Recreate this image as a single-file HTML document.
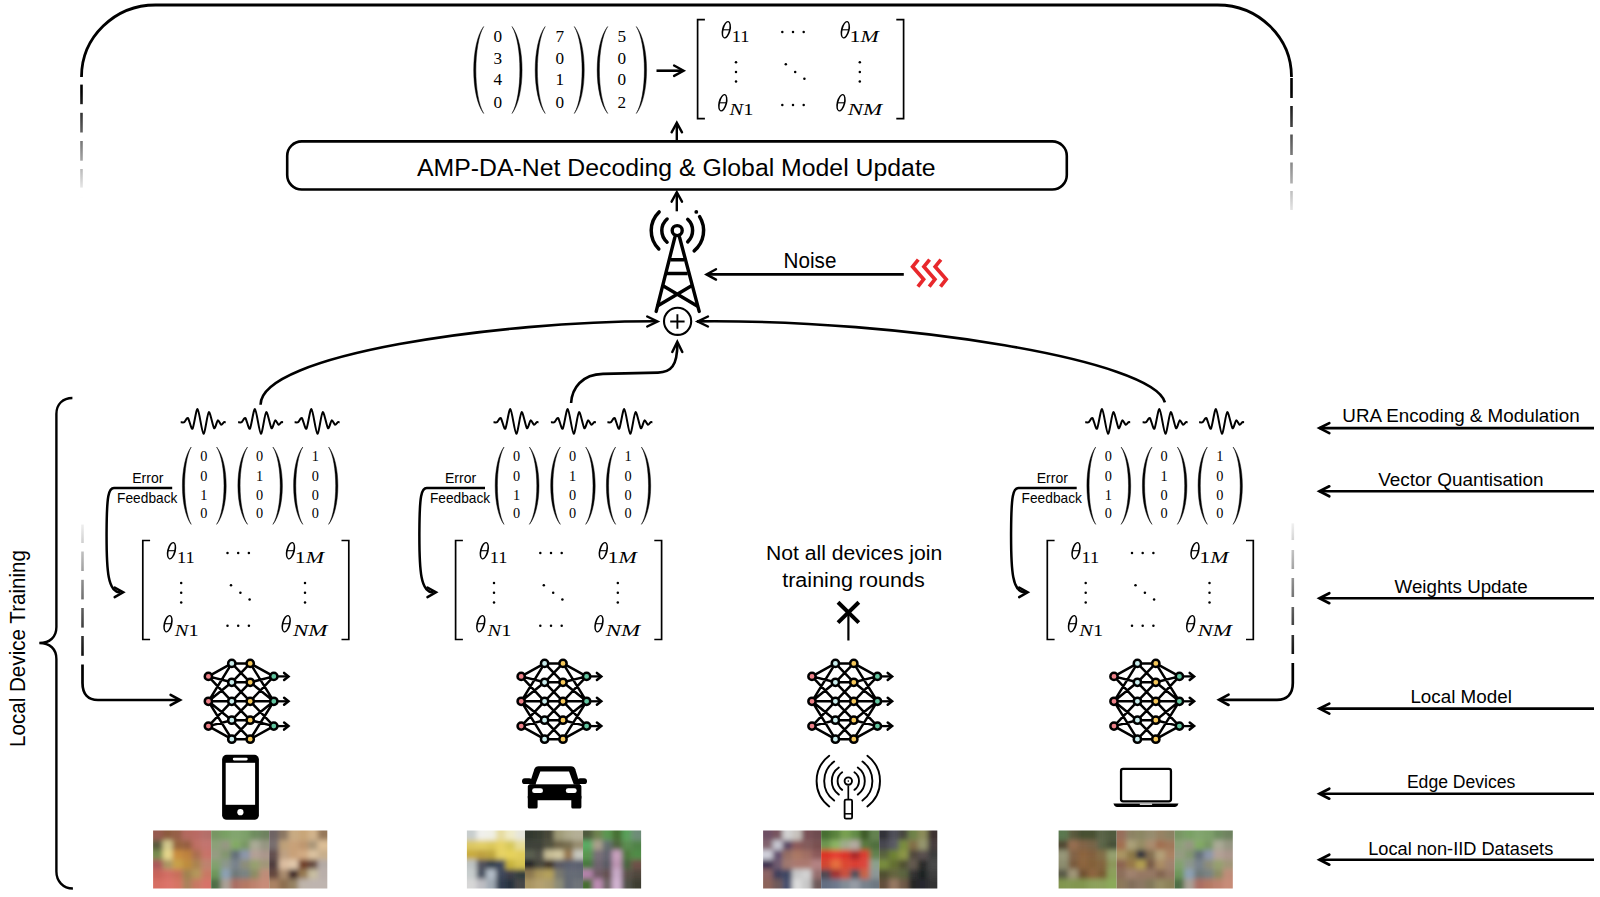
<!DOCTYPE html>
<html><head><meta charset="utf-8"><style>
html,body{margin:0;padding:0;background:#fff;}
body{width:1600px;height:897px;overflow:hidden;position:relative;font-family:"Liberation Sans",sans-serif;}
svg{position:absolute;left:0;top:0;}
</style></head><body>
<svg width="1600" height="897" viewBox="0 0 1600 897">
<defs><linearGradient id="fadeL" gradientUnits="userSpaceOnUse" x1="0" y1="92" x2="0" y2="198"><stop offset="0" stop-color="#000"/><stop offset="1" stop-color="#fff"/></linearGradient><linearGradient id="fadeB" gradientUnits="userSpaceOnUse" x1="0" y1="515" x2="0" y2="664"><stop offset="0" stop-color="#fff"/><stop offset="1" stop-color="#000"/></linearGradient><linearGradient id="fadeR" gradientUnits="userSpaceOnUse" x1="0" y1="92" x2="0" y2="224"><stop offset="0" stop-color="#000"/><stop offset="1" stop-color="#fff"/></linearGradient></defs>
<path d="M81.5,77 A74,72 0 0 1 155.5,5 L1217.5,5 A74,72 0 0 1 1291.5,77" fill="none" stroke="#000" stroke-width="2.8" />
<line x1="81.5" y1="84.6" x2="81.5" y2="104.2" stroke="url(#fadeL)" stroke-width="2.6"/>
<line x1="81.5" y1="112.8" x2="81.5" y2="132.5" stroke="url(#fadeL)" stroke-width="2.6"/>
<line x1="81.5" y1="141" x2="81.5" y2="160.7" stroke="url(#fadeL)" stroke-width="2.6"/>
<line x1="81.5" y1="169" x2="81.5" y2="187.6" stroke="url(#fadeL)" stroke-width="2.6"/>
<line x1="81.5" y1="197" x2="81.5" y2="215" stroke="url(#fadeL)" stroke-width="2.6"/>
<line x1="1291.5" y1="78" x2="1291.5" y2="98" stroke="url(#fadeR)" stroke-width="2.6"/>
<line x1="1291.5" y1="106" x2="1291.5" y2="127" stroke="url(#fadeR)" stroke-width="2.6"/>
<line x1="1291.5" y1="134.5" x2="1291.5" y2="155" stroke="url(#fadeR)" stroke-width="2.6"/>
<line x1="1291.5" y1="162.5" x2="1291.5" y2="183.5" stroke="url(#fadeR)" stroke-width="2.6"/>
<line x1="1291.5" y1="191" x2="1291.5" y2="210" stroke="url(#fadeR)" stroke-width="2.6"/>
<rect x="287.2" y="141.4" width="779.6" height="48.1" rx="14.5" ry="14.5" fill="none" stroke="#000" stroke-width="2.6"/>
<text x="417" y="175.6" font-family='"Liberation Sans", sans-serif' font-size="23.5" text-anchor="start" textLength="518.6" lengthAdjust="spacingAndGlyphs"  style="">AMP-DA-Net Decoding &amp; Global Model Update</text>
<line x1="676.8" y1="141.4" x2="676.8" y2="123" stroke="#000" stroke-width="2.4"/>
<path d="M682.00,132.30 L676.80,122.80 L671.60,132.30" fill="none" stroke="#000" stroke-width="2.4" stroke-linecap="round" stroke-linejoin="miter"/>
<line x1="676.8" y1="211.3" x2="676.8" y2="192.5" stroke="#000" stroke-width="2.4"/>
<path d="M682.00,201.70 L676.80,192.20 L671.60,201.70" fill="none" stroke="#000" stroke-width="2.4" stroke-linecap="round" stroke-linejoin="miter"/>
<text x="783.6" y="268" font-family='"Liberation Sans", sans-serif' font-size="21.4" text-anchor="start" textLength="52.8" lengthAdjust="spacingAndGlyphs"  style="">Noise</text>
<line x1="707" y1="274.4" x2="903.8" y2="274.4" stroke="#000" stroke-width="2.7"/>
<path d="M716.00,269.20 L706.50,274.40 L716.00,279.60" fill="none" stroke="#000" stroke-width="2.4" stroke-linecap="round" stroke-linejoin="miter"/>
<path d="M918.30,259.6 L912.60,266.6 L923.60,279.3 L917.90,286.6" fill="none" stroke="#e8282c" stroke-width="3.7" stroke-linejoin="miter"/>
<path d="M929.60,259.6 L923.90,266.6 L934.90,279.3 L929.20,286.6" fill="none" stroke="#e8282c" stroke-width="3.7" stroke-linejoin="miter"/>
<path d="M940.90,259.6 L935.20,266.6 L946.20,279.3 L940.50,286.6" fill="none" stroke="#e8282c" stroke-width="3.7" stroke-linejoin="miter"/>
<path d="M483.70,26.50 C470.37,43.90 470.37,96.10 483.70,113.50 C473.30,96.10 473.30,43.90 483.70,26.50 Z" fill="#000" stroke="#000" stroke-width="0.45"/>
<path d="M512.00,26.50 C525.47,43.90 525.47,96.10 512.00,113.50 C522.53,96.10 522.53,43.90 512.00,26.50 Z" fill="#000" stroke="#000" stroke-width="0.45"/>
<text x="497.8" y="42.0" font-family='"Liberation Serif", serif' font-size="17.2" text-anchor="middle"  style="">0</text>
<text x="497.8" y="63.7" font-family='"Liberation Serif", serif' font-size="17.2" text-anchor="middle"  style="">3</text>
<text x="497.8" y="85.1" font-family='"Liberation Serif", serif' font-size="17.2" text-anchor="middle"  style="">4</text>
<text x="497.8" y="107.8" font-family='"Liberation Serif", serif' font-size="17.2" text-anchor="middle"  style="">0</text>
<path d="M545.20,26.50 C531.87,43.90 531.87,96.10 545.20,113.50 C534.80,96.10 534.80,43.90 545.20,26.50 Z" fill="#000" stroke="#000" stroke-width="0.45"/>
<path d="M574.30,26.50 C587.63,43.90 587.63,96.10 574.30,113.50 C584.70,96.10 584.70,43.90 574.30,26.50 Z" fill="#000" stroke="#000" stroke-width="0.45"/>
<text x="559.7" y="42.0" font-family='"Liberation Serif", serif' font-size="17.2" text-anchor="middle"  style="">7</text>
<text x="559.7" y="63.7" font-family='"Liberation Serif", serif' font-size="17.2" text-anchor="middle"  style="">0</text>
<text x="559.7" y="85.1" font-family='"Liberation Serif", serif' font-size="17.2" text-anchor="middle"  style="">1</text>
<text x="559.7" y="107.8" font-family='"Liberation Serif", serif' font-size="17.2" text-anchor="middle"  style="">0</text>
<path d="M607.70,26.50 C593.70,43.90 593.70,96.10 607.70,113.50 C596.63,96.10 596.63,43.90 607.70,26.50 Z" fill="#000" stroke="#000" stroke-width="0.45"/>
<path d="M636.30,26.50 C650.03,43.90 650.03,96.10 636.30,113.50 C647.10,96.10 647.10,43.90 636.30,26.50 Z" fill="#000" stroke="#000" stroke-width="0.45"/>
<text x="621.7" y="42.0" font-family='"Liberation Serif", serif' font-size="17.2" text-anchor="middle"  style="">5</text>
<text x="621.7" y="63.7" font-family='"Liberation Serif", serif' font-size="17.2" text-anchor="middle"  style="">0</text>
<text x="621.7" y="85.1" font-family='"Liberation Serif", serif' font-size="17.2" text-anchor="middle"  style="">0</text>
<text x="621.7" y="107.8" font-family='"Liberation Serif", serif' font-size="17.2" text-anchor="middle"  style="">2</text>
<line x1="656.5" y1="70.7" x2="683" y2="70.7" stroke="#000" stroke-width="2.6"/>
<path d="M674.10,75.90 L683.60,70.70 L674.10,65.50" fill="none" stroke="#000" stroke-width="2.4" stroke-linecap="round" stroke-linejoin="miter"/>
<path d="M704.9,19.6 L697.6,19.6 L697.6,118.6 L704.9,118.6" fill="none" stroke="#000" stroke-width="1.7"/>
<path d="M896.3000000000001,19.6 L903.6,19.6 L903.6,118.6 L896.3000000000001,118.6" fill="none" stroke="#000" stroke-width="1.7"/>
<path d="M721.95,29.80 a4.35,8.95 0 1 0 8.70,0 a4.35,8.95 0 1 0 -8.70,0 Z M723.65,29.80 a2.65,7.75 0 1 0 5.30,0 a2.65,7.75 0 1 0 -5.30,0 Z" fill-rule="evenodd" fill="#000" transform="rotate(14 726.30 29.80)"/>
<line x1="722.40" y1="29.80" x2="730.00" y2="29.80" stroke="#000" stroke-width="1.1"/>
<text x="731.80" y="41.80" font-family="'Liberation Serif', serif" font-size="17" textLength="17.70" lengthAdjust="spacingAndGlyphs"><tspan>1</tspan><tspan>1</tspan></text>
<path d="M840.95,29.80 a4.35,8.95 0 1 0 8.70,0 a4.35,8.95 0 1 0 -8.70,0 Z M842.65,29.80 a2.65,7.75 0 1 0 5.30,0 a2.65,7.75 0 1 0 -5.30,0 Z" fill-rule="evenodd" fill="#000" transform="rotate(14 845.30 29.80)"/>
<line x1="841.40" y1="29.80" x2="849.00" y2="29.80" stroke="#000" stroke-width="1.1"/>
<text x="849.60" y="41.80" font-family="'Liberation Serif', serif" font-size="17" textLength="29.20" lengthAdjust="spacingAndGlyphs"><tspan>1</tspan><tspan font-style="italic">M</tspan></text>
<path d="M718.45,102.80 a4.35,8.95 0 1 0 8.70,0 a4.35,8.95 0 1 0 -8.70,0 Z M720.15,102.80 a2.65,7.75 0 1 0 5.30,0 a2.65,7.75 0 1 0 -5.30,0 Z" fill-rule="evenodd" fill="#000" transform="rotate(14 722.80 102.80)"/>
<line x1="718.90" y1="102.80" x2="726.50" y2="102.80" stroke="#000" stroke-width="1.1"/>
<text x="729.60" y="114.80" font-family="'Liberation Serif', serif" font-size="17" textLength="23.80" lengthAdjust="spacingAndGlyphs"><tspan font-style="italic">N</tspan><tspan>1</tspan></text>
<path d="M836.65,102.80 a4.35,8.95 0 1 0 8.70,0 a4.35,8.95 0 1 0 -8.70,0 Z M838.35,102.80 a2.65,7.75 0 1 0 5.30,0 a2.65,7.75 0 1 0 -5.30,0 Z" fill-rule="evenodd" fill="#000" transform="rotate(14 841.00 102.80)"/>
<line x1="837.10" y1="102.80" x2="844.70" y2="102.80" stroke="#000" stroke-width="1.1"/>
<text x="847.80" y="114.80" font-family="'Liberation Serif', serif" font-size="17" textLength="34.40" lengthAdjust="spacingAndGlyphs"><tspan font-style="italic">N</tspan><tspan font-style="italic">M</tspan></text>
<circle cx="782.30" cy="32.00" r="1.25" fill="#000"/>
<circle cx="782.30" cy="104.90" r="1.25" fill="#000"/>
<circle cx="793.00" cy="32.00" r="1.25" fill="#000"/>
<circle cx="793.00" cy="104.90" r="1.25" fill="#000"/>
<circle cx="803.70" cy="32.00" r="1.25" fill="#000"/>
<circle cx="803.70" cy="104.90" r="1.25" fill="#000"/>
<circle cx="736.00" cy="62.20" r="1.25" fill="#000"/>
<circle cx="736.00" cy="71.90" r="1.25" fill="#000"/>
<circle cx="736.00" cy="81.50" r="1.25" fill="#000"/>
<circle cx="859.80" cy="62.20" r="1.25" fill="#000"/>
<circle cx="859.80" cy="71.90" r="1.25" fill="#000"/>
<circle cx="859.80" cy="81.50" r="1.25" fill="#000"/>
<circle cx="785.80" cy="64.30" r="1.25" fill="#000"/>
<circle cx="795.20" cy="71.90" r="1.25" fill="#000"/>
<circle cx="804.40" cy="78.70" r="1.25" fill="#000"/>
<circle cx="677.2" cy="230.6" r="5.0" fill="none" stroke="#000" stroke-width="3.4"/>
<path d="M667.10,242.22 A15.4,15.4 0 0 1 667.10,218.98" fill="none" stroke="#000" stroke-width="3.5" stroke-linecap="round"/>
<path d="M687.70,219.34 A15.4,15.4 0 0 1 687.70,241.86" fill="none" stroke="#000" stroke-width="3.5" stroke-linecap="round"/>
<path d="M658.82,248.98 A26.0,26.0 0 0 1 659.14,211.90" fill="none" stroke="#000" stroke-width="3.5" stroke-linecap="round"/>
<path d="M699.59,216.61 A26.4,26.4 0 0 1 694.17,250.82" fill="none" stroke="#000" stroke-width="3.5" stroke-linecap="round"/>
<circle cx="696.30" cy="211.90" r="1.9" fill="#000"/>
<path d="M674.8,237.5 L656.2,311.4 M679.6,237.5 L699.2,311.4" fill="none" stroke="#000" stroke-width="3.4" stroke-linecap="round"/>
<path d="M670.4,259.8 L684.0,259.8 M666.7,273.5 L687.7,273.5" fill="none" stroke="#000" stroke-width="3.4" />
<path d="M662.6,285.5 L697.6,306.3 M692.0,285.5 L657.0,306.3" fill="none" stroke="#000" stroke-width="3.4" />
<circle cx="677.6" cy="321.3" r="13.6" fill="none" stroke="#000" stroke-width="2.1"/>
<path d="M670.2,321.5 L684.6,321.5 M677.4,314.2 L677.4,328.8" fill="none" stroke="#000" stroke-width="1.9" />
<path d="M647.26,326.50 L657.46,321.50 L647.26,316.50" fill="none" stroke="#000" stroke-width="2.5" stroke-linecap="round" stroke-linejoin="miter"/>
<path d="M707.94,316.50 L697.74,321.50 L707.94,326.50" fill="none" stroke="#000" stroke-width="2.5" stroke-linecap="round" stroke-linejoin="miter"/>
<path d="M682.30,351.94 L677.30,341.74 L672.30,351.94" fill="none" stroke="#000" stroke-width="2.5" stroke-linecap="round" stroke-linejoin="miter"/>
<path d="M260.6,404.8 C259.9,354.5 499.1,321 657,321.3" fill="none" stroke="#000" stroke-width="2.6" />
<path d="M1164.9,402.4 C1154.6,360.3 903.5,319.1 697,321.4" fill="none" stroke="#000" stroke-width="2.6" />
<path d="M571.1,403 C572,388 582,374.4 603,373.9 L658,372.6 C671,372.3 677.4,366 677.4,343" fill="none" stroke="#000" stroke-width="2.6" />
<path d="M72.4,398 C63,398 56.4,404 56.4,414 L56.4,627 C56.4,637 50,643 39.3,643 C50,643 56.4,649 56.4,659 L56.4,871.5 C56.4,881 63,888.5 72.9,888.5" fill="none" stroke="#000" stroke-width="2.4" />
<text transform="translate(24.6,747) rotate(-90)" font-family="'Liberation Sans', sans-serif" font-size="21.8" textLength="197" lengthAdjust="spacingAndGlyphs">Local Device Training</text>
<line x1="82.5" y1="524.5" x2="82.5" y2="543" stroke="url(#fadeB)" stroke-width="2.6"/>
<line x1="82.5" y1="551.5" x2="82.5" y2="571" stroke="url(#fadeB)" stroke-width="2.6"/>
<line x1="82.5" y1="579.8" x2="82.5" y2="599.4" stroke="url(#fadeB)" stroke-width="2.6"/>
<line x1="82.5" y1="608" x2="82.5" y2="627.6" stroke="url(#fadeB)" stroke-width="2.6"/>
<line x1="82.5" y1="636" x2="82.5" y2="655.8" stroke="url(#fadeB)" stroke-width="2.6"/>
<path d="M82.5,664.4 L82.5,683 C82.5,694 88,700 98,700 L179,700" fill="none" stroke="#000" stroke-width="2.7" />
<path d="M170.62,705.20 L180.12,700.00 L170.62,694.80" fill="none" stroke="#000" stroke-width="2.6" stroke-linecap="round" stroke-linejoin="miter"/>
<line x1="1292.8" y1="523.3" x2="1292.8" y2="540" stroke="url(#fadeB)" stroke-width="2.6"/>
<line x1="1292.8" y1="550" x2="1292.8" y2="569" stroke="url(#fadeB)" stroke-width="2.6"/>
<line x1="1292.8" y1="578" x2="1292.8" y2="597" stroke="url(#fadeB)" stroke-width="2.6"/>
<line x1="1292.8" y1="607" x2="1292.8" y2="625" stroke="url(#fadeB)" stroke-width="2.6"/>
<line x1="1292.8" y1="635" x2="1292.8" y2="654" stroke="url(#fadeB)" stroke-width="2.6"/>
<path d="M1292.8,663 L1292.8,683 C1292.8,694 1287,699.8 1277,699.8 L1221,699.8" fill="none" stroke="#000" stroke-width="2.7" />
<path d="M1228.58,694.60 L1219.08,699.80 L1228.58,705.00" fill="none" stroke="#000" stroke-width="2.6" stroke-linecap="round" stroke-linejoin="miter"/>
<text x="1342.3" y="422.09999999999997" font-family='"Liberation Sans", sans-serif' font-size="18.3" text-anchor="start" textLength="237.3" lengthAdjust="spacingAndGlyphs"  style="">URA Encoding &amp; Modulation</text>
<line x1="1319.5" y1="428.1" x2="1594" y2="428.1" stroke="#000" stroke-width="2.6"/>
<path d="M1329.29,423.10 L1319.49,428.10 L1329.29,433.10" fill="none" stroke="#000" stroke-width="2.7" stroke-linecap="round" stroke-linejoin="miter"/>
<text x="1378.2" y="485.59999999999997" font-family='"Liberation Sans", sans-serif' font-size="18.3" text-anchor="start" textLength="165.4" lengthAdjust="spacingAndGlyphs"  style="">Vector Quantisation</text>
<line x1="1319.5" y1="491.3" x2="1594" y2="491.3" stroke="#000" stroke-width="2.6"/>
<path d="M1329.29,486.30 L1319.49,491.30 L1329.29,496.30" fill="none" stroke="#000" stroke-width="2.7" stroke-linecap="round" stroke-linejoin="miter"/>
<text x="1394.6000000000001" y="592.7" font-family='"Liberation Sans", sans-serif' font-size="18.3" text-anchor="start" textLength="133.0" lengthAdjust="spacingAndGlyphs"  style="">Weights Update</text>
<line x1="1319.5" y1="598.2" x2="1594" y2="598.2" stroke="#000" stroke-width="2.6"/>
<path d="M1329.29,593.20 L1319.49,598.20 L1329.29,603.20" fill="none" stroke="#000" stroke-width="2.7" stroke-linecap="round" stroke-linejoin="miter"/>
<text x="1410.4" y="703.0" font-family='"Liberation Sans", sans-serif' font-size="18.3" text-anchor="start" textLength="101.5" lengthAdjust="spacingAndGlyphs"  style="">Local Model</text>
<line x1="1319.5" y1="708.6" x2="1594" y2="708.6" stroke="#000" stroke-width="2.6"/>
<path d="M1329.29,703.60 L1319.49,708.60 L1329.29,713.60" fill="none" stroke="#000" stroke-width="2.7" stroke-linecap="round" stroke-linejoin="miter"/>
<text x="1406.9" y="788.3000000000001" font-family='"Liberation Sans", sans-serif' font-size="18.3" text-anchor="start" textLength="108.5" lengthAdjust="spacingAndGlyphs"  style="">Edge Devices</text>
<line x1="1319.5" y1="793.7" x2="1594" y2="793.7" stroke="#000" stroke-width="2.6"/>
<path d="M1329.29,788.70 L1319.49,793.70 L1329.29,798.70" fill="none" stroke="#000" stroke-width="2.7" stroke-linecap="round" stroke-linejoin="miter"/>
<text x="1368.2" y="854.5" font-family='"Liberation Sans", sans-serif' font-size="18.3" text-anchor="start" textLength="185.1" lengthAdjust="spacingAndGlyphs"  style="">Local non-IID Datasets</text>
<line x1="1319.5" y1="859.7" x2="1594" y2="859.7" stroke="#000" stroke-width="2.6"/>
<path d="M1329.29,854.70 L1319.49,859.70 L1329.29,864.70" fill="none" stroke="#000" stroke-width="2.7" stroke-linecap="round" stroke-linejoin="miter"/>
<path d="M180.70,422.20 C181.18,422.20 183.33,422.75 184.30,422.20 C185.27,421.65 186.91,417.23 188.00,418.10 C189.09,418.97 191.22,429.90 192.50,428.70 C193.78,427.50 196.13,408.42 197.60,409.10 C199.07,409.78 202.01,433.40 203.50,433.80 C204.99,434.20 207.39,412.85 208.80,412.10 C210.21,411.35 212.90,427.11 214.10,428.20 C215.30,429.29 216.85,420.75 217.80,420.30 C218.75,419.85 220.37,424.55 221.20,424.80 C222.03,425.05 223.40,422.55 224.00,422.20 C224.60,421.85 225.47,422.20 225.70,422.20" fill="none" stroke="#000" stroke-width="2.0" stroke-linejoin="round"/>
<path d="M238.10,422.20 C238.58,422.20 240.73,422.75 241.70,422.20 C242.67,421.65 244.31,417.23 245.40,418.10 C246.49,418.97 248.62,429.90 249.90,428.70 C251.18,427.50 253.53,408.42 255.00,409.10 C256.47,409.78 259.41,433.40 260.90,433.80 C262.39,434.20 264.79,412.85 266.20,412.10 C267.61,411.35 270.30,427.11 271.50,428.20 C272.70,429.29 274.25,420.75 275.20,420.30 C276.15,419.85 277.77,424.55 278.60,424.80 C279.43,425.05 280.80,422.55 281.40,422.20 C282.00,421.85 282.87,422.20 283.10,422.20" fill="none" stroke="#000" stroke-width="2.0" stroke-linejoin="round"/>
<path d="M294.60,422.20 C295.08,422.20 297.23,422.75 298.20,422.20 C299.17,421.65 300.81,417.23 301.90,418.10 C302.99,418.97 305.12,429.90 306.40,428.70 C307.68,427.50 310.03,408.42 311.50,409.10 C312.97,409.78 315.91,433.40 317.40,433.80 C318.89,434.20 321.29,412.85 322.70,412.10 C324.11,411.35 326.80,427.11 328.00,428.20 C329.20,429.29 330.75,420.75 331.70,420.30 C332.65,419.85 334.27,424.55 335.10,424.80 C335.93,425.05 337.30,422.55 337.90,422.20 C338.50,421.85 339.37,422.20 339.60,422.20" fill="none" stroke="#000" stroke-width="2.0" stroke-linejoin="round"/>
<path d="M191.20,447.00 C179.47,462.48 179.47,508.92 191.20,524.40 C182.40,508.92 182.40,462.48 191.20,447.00 Z" fill="#000" stroke="#000" stroke-width="0.45"/>
<path d="M216.60,447.00 C229.40,462.48 229.40,508.92 216.60,524.40 C226.47,508.92 226.47,462.48 216.60,447.00 Z" fill="#000" stroke="#000" stroke-width="0.45"/>
<text x="203.9" y="461.3" font-family='"Liberation Serif", serif' font-size="14.3" text-anchor="middle"  style="">0</text>
<text x="203.9" y="480.6" font-family='"Liberation Serif", serif' font-size="14.3" text-anchor="middle"  style="">0</text>
<text x="203.9" y="499.7" font-family='"Liberation Serif", serif' font-size="14.3" text-anchor="middle"  style="">1</text>
<text x="203.9" y="518.4" font-family='"Liberation Serif", serif' font-size="14.3" text-anchor="middle"  style="">0</text>
<path d="M247.50,447.00 C234.70,462.48 234.70,508.92 247.50,524.40 C237.63,508.92 237.63,462.48 247.50,447.00 Z" fill="#000" stroke="#000" stroke-width="0.45"/>
<path d="M272.90,447.00 C285.57,462.48 285.57,508.92 272.90,524.40 C282.63,508.92 282.63,462.48 272.90,447.00 Z" fill="#000" stroke="#000" stroke-width="0.45"/>
<text x="259.7" y="461.3" font-family='"Liberation Serif", serif' font-size="14.3" text-anchor="middle"  style="">0</text>
<text x="259.7" y="480.6" font-family='"Liberation Serif", serif' font-size="14.3" text-anchor="middle"  style="">1</text>
<text x="259.7" y="499.7" font-family='"Liberation Serif", serif' font-size="14.3" text-anchor="middle"  style="">0</text>
<text x="259.7" y="518.4" font-family='"Liberation Serif", serif' font-size="14.3" text-anchor="middle"  style="">0</text>
<path d="M302.80,447.00 C290.53,462.48 290.53,508.92 302.80,524.40 C293.47,508.92 293.47,462.48 302.80,447.00 Z" fill="#000" stroke="#000" stroke-width="0.45"/>
<path d="M328.60,447.00 C341.00,462.48 341.00,508.92 328.60,524.40 C338.07,508.92 338.07,462.48 328.60,447.00 Z" fill="#000" stroke="#000" stroke-width="0.45"/>
<text x="315.3" y="461.3" font-family='"Liberation Serif", serif' font-size="14.3" text-anchor="middle"  style="">1</text>
<text x="315.3" y="480.6" font-family='"Liberation Serif", serif' font-size="14.3" text-anchor="middle"  style="">0</text>
<text x="315.3" y="499.7" font-family='"Liberation Serif", serif' font-size="14.3" text-anchor="middle"  style="">0</text>
<text x="315.3" y="518.4" font-family='"Liberation Serif", serif' font-size="14.3" text-anchor="middle"  style="">0</text>
<text x="132.2" y="482.5" font-family='"Liberation Sans", sans-serif' font-size="14.6" text-anchor="start" textLength="31.2" lengthAdjust="spacingAndGlyphs"  style="">Error</text>
<text x="117.1" y="502.5" font-family='"Liberation Sans", sans-serif' font-size="14.6" text-anchor="start" textLength="60.3" lengthAdjust="spacingAndGlyphs"  style="">Feedback</text>
<path d="M172.2,488 L114,488 C108.5,488 106.8,496 106.6,530 C106.3,572 108,592.3 120.5,592.3" fill="none" stroke="#000" stroke-width="2.5" />
<path d="M114.68,597.10 L123.18,592.30 L114.68,587.50" fill="none" stroke="#000" stroke-width="2.5" stroke-linecap="round" stroke-linejoin="miter"/>
<path d="M150.10000000000008,540.5 L142.80000000000007,540.5 L142.80000000000007,639.5 L150.10000000000008,639.5" fill="none" stroke="#000" stroke-width="1.7"/>
<path d="M341.50000000000006,540.5 L348.80000000000007,540.5 L348.80000000000007,639.5 L341.50000000000006,639.5" fill="none" stroke="#000" stroke-width="1.7"/>
<path d="M167.15,550.70 a4.35,8.95 0 1 0 8.70,0 a4.35,8.95 0 1 0 -8.70,0 Z M168.85,550.70 a2.65,7.75 0 1 0 5.30,0 a2.65,7.75 0 1 0 -5.30,0 Z" fill-rule="evenodd" fill="#000" transform="rotate(14 171.50 550.70)"/>
<line x1="167.60" y1="550.70" x2="175.20" y2="550.70" stroke="#000" stroke-width="1.1"/>
<text x="177.00" y="562.70" font-family="'Liberation Serif', serif" font-size="17" textLength="17.70" lengthAdjust="spacingAndGlyphs"><tspan>1</tspan><tspan>1</tspan></text>
<path d="M286.15,550.70 a4.35,8.95 0 1 0 8.70,0 a4.35,8.95 0 1 0 -8.70,0 Z M287.85,550.70 a2.65,7.75 0 1 0 5.30,0 a2.65,7.75 0 1 0 -5.30,0 Z" fill-rule="evenodd" fill="#000" transform="rotate(14 290.50 550.70)"/>
<line x1="286.60" y1="550.70" x2="294.20" y2="550.70" stroke="#000" stroke-width="1.1"/>
<text x="294.80" y="562.70" font-family="'Liberation Serif', serif" font-size="17" textLength="29.20" lengthAdjust="spacingAndGlyphs"><tspan>1</tspan><tspan font-style="italic">M</tspan></text>
<path d="M163.65,623.70 a4.35,8.95 0 1 0 8.70,0 a4.35,8.95 0 1 0 -8.70,0 Z M165.35,623.70 a2.65,7.75 0 1 0 5.30,0 a2.65,7.75 0 1 0 -5.30,0 Z" fill-rule="evenodd" fill="#000" transform="rotate(14 168.00 623.70)"/>
<line x1="164.10" y1="623.70" x2="171.70" y2="623.70" stroke="#000" stroke-width="1.1"/>
<text x="174.80" y="635.70" font-family="'Liberation Serif', serif" font-size="17" textLength="23.80" lengthAdjust="spacingAndGlyphs"><tspan font-style="italic">N</tspan><tspan>1</tspan></text>
<path d="M281.85,623.70 a4.35,8.95 0 1 0 8.70,0 a4.35,8.95 0 1 0 -8.70,0 Z M283.55,623.70 a2.65,7.75 0 1 0 5.30,0 a2.65,7.75 0 1 0 -5.30,0 Z" fill-rule="evenodd" fill="#000" transform="rotate(14 286.20 623.70)"/>
<line x1="282.30" y1="623.70" x2="289.90" y2="623.70" stroke="#000" stroke-width="1.1"/>
<text x="293.00" y="635.70" font-family="'Liberation Serif', serif" font-size="17" textLength="34.40" lengthAdjust="spacingAndGlyphs"><tspan font-style="italic">N</tspan><tspan font-style="italic">M</tspan></text>
<circle cx="227.50" cy="552.90" r="1.25" fill="#000"/>
<circle cx="227.50" cy="625.80" r="1.25" fill="#000"/>
<circle cx="238.20" cy="552.90" r="1.25" fill="#000"/>
<circle cx="238.20" cy="625.80" r="1.25" fill="#000"/>
<circle cx="248.90" cy="552.90" r="1.25" fill="#000"/>
<circle cx="248.90" cy="625.80" r="1.25" fill="#000"/>
<circle cx="181.20" cy="583.10" r="1.25" fill="#000"/>
<circle cx="181.20" cy="592.80" r="1.25" fill="#000"/>
<circle cx="181.20" cy="602.40" r="1.25" fill="#000"/>
<circle cx="305.00" cy="583.10" r="1.25" fill="#000"/>
<circle cx="305.00" cy="592.80" r="1.25" fill="#000"/>
<circle cx="305.00" cy="602.40" r="1.25" fill="#000"/>
<circle cx="231.00" cy="585.20" r="1.25" fill="#000"/>
<circle cx="240.40" cy="592.80" r="1.25" fill="#000"/>
<circle cx="249.60" cy="599.60" r="1.25" fill="#000"/>
<path d="M493.50,422.20 C493.98,422.20 496.13,422.75 497.10,422.20 C498.07,421.65 499.71,417.23 500.80,418.10 C501.89,418.97 504.02,429.90 505.30,428.70 C506.58,427.50 508.93,408.42 510.40,409.10 C511.87,409.78 514.81,433.40 516.30,433.80 C517.79,434.20 520.19,412.85 521.60,412.10 C523.01,411.35 525.70,427.11 526.90,428.20 C528.10,429.29 529.65,420.75 530.60,420.30 C531.55,419.85 533.17,424.55 534.00,424.80 C534.83,425.05 536.20,422.55 536.80,422.20 C537.40,421.85 538.27,422.20 538.50,422.20" fill="none" stroke="#000" stroke-width="2.0" stroke-linejoin="round"/>
<path d="M550.90,422.20 C551.38,422.20 553.53,422.75 554.50,422.20 C555.47,421.65 557.11,417.23 558.20,418.10 C559.29,418.97 561.42,429.90 562.70,428.70 C563.98,427.50 566.33,408.42 567.80,409.10 C569.27,409.78 572.21,433.40 573.70,433.80 C575.19,434.20 577.59,412.85 579.00,412.10 C580.41,411.35 583.10,427.11 584.30,428.20 C585.50,429.29 587.05,420.75 588.00,420.30 C588.95,419.85 590.57,424.55 591.40,424.80 C592.23,425.05 593.60,422.55 594.20,422.20 C594.80,421.85 595.67,422.20 595.90,422.20" fill="none" stroke="#000" stroke-width="2.0" stroke-linejoin="round"/>
<path d="M607.40,422.20 C607.88,422.20 610.03,422.75 611.00,422.20 C611.97,421.65 613.61,417.23 614.70,418.10 C615.79,418.97 617.92,429.90 619.20,428.70 C620.48,427.50 622.83,408.42 624.30,409.10 C625.77,409.78 628.71,433.40 630.20,433.80 C631.69,434.20 634.09,412.85 635.50,412.10 C636.91,411.35 639.60,427.11 640.80,428.20 C642.00,429.29 643.55,420.75 644.50,420.30 C645.45,419.85 647.07,424.55 647.90,424.80 C648.73,425.05 650.10,422.55 650.70,422.20 C651.30,421.85 652.17,422.20 652.40,422.20" fill="none" stroke="#000" stroke-width="2.0" stroke-linejoin="round"/>
<path d="M504.00,447.00 C492.27,462.48 492.27,508.92 504.00,524.40 C495.20,508.92 495.20,462.48 504.00,447.00 Z" fill="#000" stroke="#000" stroke-width="0.45"/>
<path d="M529.40,447.00 C542.20,462.48 542.20,508.92 529.40,524.40 C539.27,508.92 539.27,462.48 529.40,447.00 Z" fill="#000" stroke="#000" stroke-width="0.45"/>
<text x="516.7" y="461.3" font-family='"Liberation Serif", serif' font-size="14.3" text-anchor="middle"  style="">0</text>
<text x="516.7" y="480.6" font-family='"Liberation Serif", serif' font-size="14.3" text-anchor="middle"  style="">0</text>
<text x="516.7" y="499.7" font-family='"Liberation Serif", serif' font-size="14.3" text-anchor="middle"  style="">1</text>
<text x="516.7" y="518.4" font-family='"Liberation Serif", serif' font-size="14.3" text-anchor="middle"  style="">0</text>
<path d="M560.30,447.00 C547.50,462.48 547.50,508.92 560.30,524.40 C550.43,508.92 550.43,462.48 560.30,447.00 Z" fill="#000" stroke="#000" stroke-width="0.45"/>
<path d="M585.70,447.00 C598.37,462.48 598.37,508.92 585.70,524.40 C595.43,508.92 595.43,462.48 585.70,447.00 Z" fill="#000" stroke="#000" stroke-width="0.45"/>
<text x="572.5" y="461.3" font-family='"Liberation Serif", serif' font-size="14.3" text-anchor="middle"  style="">0</text>
<text x="572.5" y="480.6" font-family='"Liberation Serif", serif' font-size="14.3" text-anchor="middle"  style="">1</text>
<text x="572.5" y="499.7" font-family='"Liberation Serif", serif' font-size="14.3" text-anchor="middle"  style="">0</text>
<text x="572.5" y="518.4" font-family='"Liberation Serif", serif' font-size="14.3" text-anchor="middle"  style="">0</text>
<path d="M615.60,447.00 C603.33,462.48 603.33,508.92 615.60,524.40 C606.27,508.92 606.27,462.48 615.60,447.00 Z" fill="#000" stroke="#000" stroke-width="0.45"/>
<path d="M641.40,447.00 C653.80,462.48 653.80,508.92 641.40,524.40 C650.87,508.92 650.87,462.48 641.40,447.00 Z" fill="#000" stroke="#000" stroke-width="0.45"/>
<text x="628.1" y="461.3" font-family='"Liberation Serif", serif' font-size="14.3" text-anchor="middle"  style="">1</text>
<text x="628.1" y="480.6" font-family='"Liberation Serif", serif' font-size="14.3" text-anchor="middle"  style="">0</text>
<text x="628.1" y="499.7" font-family='"Liberation Serif", serif' font-size="14.3" text-anchor="middle"  style="">0</text>
<text x="628.1" y="518.4" font-family='"Liberation Serif", serif' font-size="14.3" text-anchor="middle"  style="">0</text>
<text x="445.0" y="482.5" font-family='"Liberation Sans", sans-serif' font-size="14.6" text-anchor="start" textLength="31.2" lengthAdjust="spacingAndGlyphs"  style="">Error</text>
<text x="429.9" y="502.5" font-family='"Liberation Sans", sans-serif' font-size="14.6" text-anchor="start" textLength="60.3" lengthAdjust="spacingAndGlyphs"  style="">Feedback</text>
<path d="M485.0,488 L426.8,488 C421.3,488 419.6,496 419.4,530 C419.1,572 420.8,592.3 433.3,592.3" fill="none" stroke="#000" stroke-width="2.5" />
<path d="M427.48,597.10 L435.98,592.30 L427.48,587.50" fill="none" stroke="#000" stroke-width="2.5" stroke-linecap="round" stroke-linejoin="miter"/>
<path d="M462.90000000000003,540.5 L455.6,540.5 L455.6,639.5 L462.90000000000003,639.5" fill="none" stroke="#000" stroke-width="1.7"/>
<path d="M654.3000000000001,540.5 L661.6,540.5 L661.6,639.5 L654.3000000000001,639.5" fill="none" stroke="#000" stroke-width="1.7"/>
<path d="M479.95,550.70 a4.35,8.95 0 1 0 8.70,0 a4.35,8.95 0 1 0 -8.70,0 Z M481.65,550.70 a2.65,7.75 0 1 0 5.30,0 a2.65,7.75 0 1 0 -5.30,0 Z" fill-rule="evenodd" fill="#000" transform="rotate(14 484.30 550.70)"/>
<line x1="480.40" y1="550.70" x2="488.00" y2="550.70" stroke="#000" stroke-width="1.1"/>
<text x="489.80" y="562.70" font-family="'Liberation Serif', serif" font-size="17" textLength="17.70" lengthAdjust="spacingAndGlyphs"><tspan>1</tspan><tspan>1</tspan></text>
<path d="M598.95,550.70 a4.35,8.95 0 1 0 8.70,0 a4.35,8.95 0 1 0 -8.70,0 Z M600.65,550.70 a2.65,7.75 0 1 0 5.30,0 a2.65,7.75 0 1 0 -5.30,0 Z" fill-rule="evenodd" fill="#000" transform="rotate(14 603.30 550.70)"/>
<line x1="599.40" y1="550.70" x2="607.00" y2="550.70" stroke="#000" stroke-width="1.1"/>
<text x="607.60" y="562.70" font-family="'Liberation Serif', serif" font-size="17" textLength="29.20" lengthAdjust="spacingAndGlyphs"><tspan>1</tspan><tspan font-style="italic">M</tspan></text>
<path d="M476.45,623.70 a4.35,8.95 0 1 0 8.70,0 a4.35,8.95 0 1 0 -8.70,0 Z M478.15,623.70 a2.65,7.75 0 1 0 5.30,0 a2.65,7.75 0 1 0 -5.30,0 Z" fill-rule="evenodd" fill="#000" transform="rotate(14 480.80 623.70)"/>
<line x1="476.90" y1="623.70" x2="484.50" y2="623.70" stroke="#000" stroke-width="1.1"/>
<text x="487.60" y="635.70" font-family="'Liberation Serif', serif" font-size="17" textLength="23.80" lengthAdjust="spacingAndGlyphs"><tspan font-style="italic">N</tspan><tspan>1</tspan></text>
<path d="M594.65,623.70 a4.35,8.95 0 1 0 8.70,0 a4.35,8.95 0 1 0 -8.70,0 Z M596.35,623.70 a2.65,7.75 0 1 0 5.30,0 a2.65,7.75 0 1 0 -5.30,0 Z" fill-rule="evenodd" fill="#000" transform="rotate(14 599.00 623.70)"/>
<line x1="595.10" y1="623.70" x2="602.70" y2="623.70" stroke="#000" stroke-width="1.1"/>
<text x="605.80" y="635.70" font-family="'Liberation Serif', serif" font-size="17" textLength="34.40" lengthAdjust="spacingAndGlyphs"><tspan font-style="italic">N</tspan><tspan font-style="italic">M</tspan></text>
<circle cx="540.30" cy="552.90" r="1.25" fill="#000"/>
<circle cx="540.30" cy="625.80" r="1.25" fill="#000"/>
<circle cx="551.00" cy="552.90" r="1.25" fill="#000"/>
<circle cx="551.00" cy="625.80" r="1.25" fill="#000"/>
<circle cx="561.70" cy="552.90" r="1.25" fill="#000"/>
<circle cx="561.70" cy="625.80" r="1.25" fill="#000"/>
<circle cx="494.00" cy="583.10" r="1.25" fill="#000"/>
<circle cx="494.00" cy="592.80" r="1.25" fill="#000"/>
<circle cx="494.00" cy="602.40" r="1.25" fill="#000"/>
<circle cx="617.80" cy="583.10" r="1.25" fill="#000"/>
<circle cx="617.80" cy="592.80" r="1.25" fill="#000"/>
<circle cx="617.80" cy="602.40" r="1.25" fill="#000"/>
<circle cx="543.80" cy="585.20" r="1.25" fill="#000"/>
<circle cx="553.20" cy="592.80" r="1.25" fill="#000"/>
<circle cx="562.40" cy="599.60" r="1.25" fill="#000"/>
<path d="M1085.20,422.20 C1085.68,422.20 1087.83,422.75 1088.80,422.20 C1089.77,421.65 1091.41,417.23 1092.50,418.10 C1093.59,418.97 1095.72,429.90 1097.00,428.70 C1098.28,427.50 1100.63,408.42 1102.10,409.10 C1103.57,409.78 1106.51,433.40 1108.00,433.80 C1109.49,434.20 1111.89,412.85 1113.30,412.10 C1114.71,411.35 1117.40,427.11 1118.60,428.20 C1119.80,429.29 1121.35,420.75 1122.30,420.30 C1123.25,419.85 1124.87,424.55 1125.70,424.80 C1126.53,425.05 1127.90,422.55 1128.50,422.20 C1129.10,421.85 1129.97,422.20 1130.20,422.20" fill="none" stroke="#000" stroke-width="2.0" stroke-linejoin="round"/>
<path d="M1142.60,422.20 C1143.08,422.20 1145.23,422.75 1146.20,422.20 C1147.17,421.65 1148.81,417.23 1149.90,418.10 C1150.99,418.97 1153.12,429.90 1154.40,428.70 C1155.68,427.50 1158.03,408.42 1159.50,409.10 C1160.97,409.78 1163.91,433.40 1165.40,433.80 C1166.89,434.20 1169.29,412.85 1170.70,412.10 C1172.11,411.35 1174.80,427.11 1176.00,428.20 C1177.20,429.29 1178.75,420.75 1179.70,420.30 C1180.65,419.85 1182.27,424.55 1183.10,424.80 C1183.93,425.05 1185.30,422.55 1185.90,422.20 C1186.50,421.85 1187.37,422.20 1187.60,422.20" fill="none" stroke="#000" stroke-width="2.0" stroke-linejoin="round"/>
<path d="M1199.10,422.20 C1199.58,422.20 1201.73,422.75 1202.70,422.20 C1203.67,421.65 1205.31,417.23 1206.40,418.10 C1207.49,418.97 1209.62,429.90 1210.90,428.70 C1212.18,427.50 1214.53,408.42 1216.00,409.10 C1217.47,409.78 1220.41,433.40 1221.90,433.80 C1223.39,434.20 1225.79,412.85 1227.20,412.10 C1228.61,411.35 1231.30,427.11 1232.50,428.20 C1233.70,429.29 1235.25,420.75 1236.20,420.30 C1237.15,419.85 1238.77,424.55 1239.60,424.80 C1240.43,425.05 1241.80,422.55 1242.40,422.20 C1243.00,421.85 1243.87,422.20 1244.10,422.20" fill="none" stroke="#000" stroke-width="2.0" stroke-linejoin="round"/>
<path d="M1095.70,447.00 C1083.97,462.48 1083.97,508.92 1095.70,524.40 C1086.90,508.92 1086.90,462.48 1095.70,447.00 Z" fill="#000" stroke="#000" stroke-width="0.45"/>
<path d="M1121.10,447.00 C1133.90,462.48 1133.90,508.92 1121.10,524.40 C1130.97,508.92 1130.97,462.48 1121.10,447.00 Z" fill="#000" stroke="#000" stroke-width="0.45"/>
<text x="1108.4" y="461.3" font-family='"Liberation Serif", serif' font-size="14.3" text-anchor="middle"  style="">0</text>
<text x="1108.4" y="480.6" font-family='"Liberation Serif", serif' font-size="14.3" text-anchor="middle"  style="">0</text>
<text x="1108.4" y="499.7" font-family='"Liberation Serif", serif' font-size="14.3" text-anchor="middle"  style="">1</text>
<text x="1108.4" y="518.4" font-family='"Liberation Serif", serif' font-size="14.3" text-anchor="middle"  style="">0</text>
<path d="M1152.00,447.00 C1139.20,462.48 1139.20,508.92 1152.00,524.40 C1142.13,508.92 1142.13,462.48 1152.00,447.00 Z" fill="#000" stroke="#000" stroke-width="0.45"/>
<path d="M1177.40,447.00 C1190.07,462.48 1190.07,508.92 1177.40,524.40 C1187.13,508.92 1187.13,462.48 1177.40,447.00 Z" fill="#000" stroke="#000" stroke-width="0.45"/>
<text x="1164.2" y="461.3" font-family='"Liberation Serif", serif' font-size="14.3" text-anchor="middle"  style="">0</text>
<text x="1164.2" y="480.6" font-family='"Liberation Serif", serif' font-size="14.3" text-anchor="middle"  style="">1</text>
<text x="1164.2" y="499.7" font-family='"Liberation Serif", serif' font-size="14.3" text-anchor="middle"  style="">0</text>
<text x="1164.2" y="518.4" font-family='"Liberation Serif", serif' font-size="14.3" text-anchor="middle"  style="">0</text>
<path d="M1207.30,447.00 C1195.03,462.48 1195.03,508.92 1207.30,524.40 C1197.97,508.92 1197.97,462.48 1207.30,447.00 Z" fill="#000" stroke="#000" stroke-width="0.45"/>
<path d="M1233.10,447.00 C1245.50,462.48 1245.50,508.92 1233.10,524.40 C1242.57,508.92 1242.57,462.48 1233.10,447.00 Z" fill="#000" stroke="#000" stroke-width="0.45"/>
<text x="1219.8" y="461.3" font-family='"Liberation Serif", serif' font-size="14.3" text-anchor="middle"  style="">1</text>
<text x="1219.8" y="480.6" font-family='"Liberation Serif", serif' font-size="14.3" text-anchor="middle"  style="">0</text>
<text x="1219.8" y="499.7" font-family='"Liberation Serif", serif' font-size="14.3" text-anchor="middle"  style="">0</text>
<text x="1219.8" y="518.4" font-family='"Liberation Serif", serif' font-size="14.3" text-anchor="middle"  style="">0</text>
<text x="1036.7" y="482.5" font-family='"Liberation Sans", sans-serif' font-size="14.6" text-anchor="start" textLength="31.2" lengthAdjust="spacingAndGlyphs"  style="">Error</text>
<text x="1021.6" y="502.5" font-family='"Liberation Sans", sans-serif' font-size="14.6" text-anchor="start" textLength="60.3" lengthAdjust="spacingAndGlyphs"  style="">Feedback</text>
<path d="M1076.7,488 L1018.5,488 C1013.0,488 1011.3,496 1011.1,530 C1010.8,572 1012.5,592.3 1025.0,592.3" fill="none" stroke="#000" stroke-width="2.5" />
<path d="M1019.18,597.10 L1027.68,592.30 L1019.18,587.50" fill="none" stroke="#000" stroke-width="2.5" stroke-linecap="round" stroke-linejoin="miter"/>
<path d="M1054.6,540.5 L1047.3,540.5 L1047.3,639.5 L1054.6,639.5" fill="none" stroke="#000" stroke-width="1.7"/>
<path d="M1246.0,540.5 L1253.3,540.5 L1253.3,639.5 L1246.0,639.5" fill="none" stroke="#000" stroke-width="1.7"/>
<path d="M1071.65,550.70 a4.35,8.95 0 1 0 8.70,0 a4.35,8.95 0 1 0 -8.70,0 Z M1073.35,550.70 a2.65,7.75 0 1 0 5.30,0 a2.65,7.75 0 1 0 -5.30,0 Z" fill-rule="evenodd" fill="#000" transform="rotate(14 1076.00 550.70)"/>
<line x1="1072.10" y1="550.70" x2="1079.70" y2="550.70" stroke="#000" stroke-width="1.1"/>
<text x="1081.50" y="562.70" font-family="'Liberation Serif', serif" font-size="17" textLength="17.70" lengthAdjust="spacingAndGlyphs"><tspan>1</tspan><tspan>1</tspan></text>
<path d="M1190.65,550.70 a4.35,8.95 0 1 0 8.70,0 a4.35,8.95 0 1 0 -8.70,0 Z M1192.35,550.70 a2.65,7.75 0 1 0 5.30,0 a2.65,7.75 0 1 0 -5.30,0 Z" fill-rule="evenodd" fill="#000" transform="rotate(14 1195.00 550.70)"/>
<line x1="1191.10" y1="550.70" x2="1198.70" y2="550.70" stroke="#000" stroke-width="1.1"/>
<text x="1199.30" y="562.70" font-family="'Liberation Serif', serif" font-size="17" textLength="29.20" lengthAdjust="spacingAndGlyphs"><tspan>1</tspan><tspan font-style="italic">M</tspan></text>
<path d="M1068.15,623.70 a4.35,8.95 0 1 0 8.70,0 a4.35,8.95 0 1 0 -8.70,0 Z M1069.85,623.70 a2.65,7.75 0 1 0 5.30,0 a2.65,7.75 0 1 0 -5.30,0 Z" fill-rule="evenodd" fill="#000" transform="rotate(14 1072.50 623.70)"/>
<line x1="1068.60" y1="623.70" x2="1076.20" y2="623.70" stroke="#000" stroke-width="1.1"/>
<text x="1079.30" y="635.70" font-family="'Liberation Serif', serif" font-size="17" textLength="23.80" lengthAdjust="spacingAndGlyphs"><tspan font-style="italic">N</tspan><tspan>1</tspan></text>
<path d="M1186.35,623.70 a4.35,8.95 0 1 0 8.70,0 a4.35,8.95 0 1 0 -8.70,0 Z M1188.05,623.70 a2.65,7.75 0 1 0 5.30,0 a2.65,7.75 0 1 0 -5.30,0 Z" fill-rule="evenodd" fill="#000" transform="rotate(14 1190.70 623.70)"/>
<line x1="1186.80" y1="623.70" x2="1194.40" y2="623.70" stroke="#000" stroke-width="1.1"/>
<text x="1197.50" y="635.70" font-family="'Liberation Serif', serif" font-size="17" textLength="34.40" lengthAdjust="spacingAndGlyphs"><tspan font-style="italic">N</tspan><tspan font-style="italic">M</tspan></text>
<circle cx="1132.00" cy="552.90" r="1.25" fill="#000"/>
<circle cx="1132.00" cy="625.80" r="1.25" fill="#000"/>
<circle cx="1142.70" cy="552.90" r="1.25" fill="#000"/>
<circle cx="1142.70" cy="625.80" r="1.25" fill="#000"/>
<circle cx="1153.40" cy="552.90" r="1.25" fill="#000"/>
<circle cx="1153.40" cy="625.80" r="1.25" fill="#000"/>
<circle cx="1085.70" cy="583.10" r="1.25" fill="#000"/>
<circle cx="1085.70" cy="592.80" r="1.25" fill="#000"/>
<circle cx="1085.70" cy="602.40" r="1.25" fill="#000"/>
<circle cx="1209.50" cy="583.10" r="1.25" fill="#000"/>
<circle cx="1209.50" cy="592.80" r="1.25" fill="#000"/>
<circle cx="1209.50" cy="602.40" r="1.25" fill="#000"/>
<circle cx="1135.50" cy="585.20" r="1.25" fill="#000"/>
<circle cx="1144.90" cy="592.80" r="1.25" fill="#000"/>
<circle cx="1154.10" cy="599.60" r="1.25" fill="#000"/>
<path d="M208.40,676.40L231.80,663.40M208.40,676.40L231.80,682.30M208.40,676.40L231.80,701.30M208.40,701.30L231.80,663.40M208.40,701.30L231.80,682.30M208.40,701.30L231.80,701.30M208.40,701.30L231.80,720.20M208.40,701.30L231.80,739.20M208.40,726.10L231.80,701.30M208.40,726.10L231.80,720.20M208.40,726.10L231.80,739.20M231.80,663.40L250.20,663.40M231.80,663.40L250.20,682.30M231.80,682.30L250.20,663.40M231.80,682.30L250.20,682.30M231.80,682.30L250.20,701.30M231.80,701.30L250.20,682.30M231.80,701.30L250.20,701.30M231.80,701.30L250.20,720.20M231.80,720.20L250.20,701.30M231.80,720.20L250.20,720.20M231.80,720.20L250.20,739.20M231.80,739.20L250.20,720.20M231.80,739.20L250.20,739.20M250.20,663.40L273.80,676.40M250.20,663.40L273.80,701.30M250.20,682.30L273.80,676.40M250.20,682.30L273.80,701.30M250.20,701.30L273.80,676.40M250.20,701.30L273.80,701.30M250.20,701.30L273.80,726.10M250.20,720.20L273.80,701.30M250.20,720.20L273.80,726.10M250.20,739.20L273.80,701.30M250.20,739.20L273.80,726.10" stroke="#000" stroke-width="2.5" fill="none"/>
<circle cx="208.40" cy="676.40" r="3.65" fill="#ee8088" stroke="#000" stroke-width="2.5"/>
<circle cx="208.40" cy="701.30" r="3.65" fill="#ee8088" stroke="#000" stroke-width="2.5"/>
<circle cx="208.40" cy="726.10" r="3.65" fill="#ee8088" stroke="#000" stroke-width="2.5"/>
<circle cx="231.80" cy="663.40" r="3.65" fill="#c9eded" stroke="#000" stroke-width="2.5"/>
<circle cx="231.80" cy="682.30" r="3.65" fill="#c9eded" stroke="#000" stroke-width="2.5"/>
<circle cx="231.80" cy="701.30" r="3.65" fill="#c9eded" stroke="#000" stroke-width="2.5"/>
<circle cx="231.80" cy="720.20" r="3.65" fill="#c9eded" stroke="#000" stroke-width="2.5"/>
<circle cx="231.80" cy="739.20" r="3.65" fill="#c9eded" stroke="#000" stroke-width="2.5"/>
<circle cx="250.20" cy="663.40" r="3.65" fill="#f6c85a" stroke="#000" stroke-width="2.5"/>
<circle cx="250.20" cy="682.30" r="3.65" fill="#f6c85a" stroke="#000" stroke-width="2.5"/>
<circle cx="250.20" cy="701.30" r="3.65" fill="#f6c85a" stroke="#000" stroke-width="2.5"/>
<circle cx="250.20" cy="720.20" r="3.65" fill="#f6c85a" stroke="#000" stroke-width="2.5"/>
<circle cx="250.20" cy="739.20" r="3.65" fill="#f6c85a" stroke="#000" stroke-width="2.5"/>
<circle cx="273.80" cy="676.40" r="3.65" fill="#62c6a0" stroke="#000" stroke-width="2.5"/>
<circle cx="273.80" cy="701.30" r="3.65" fill="#62c6a0" stroke="#000" stroke-width="2.5"/>
<circle cx="273.80" cy="726.10" r="3.65" fill="#62c6a0" stroke="#000" stroke-width="2.5"/>
<line x1="277.8" y1="676.4" x2="287.3" y2="676.4" stroke="#000" stroke-width="2.3"/>
<path d="M284.10,679.90 L288.50,676.40 L284.10,672.90" fill="none" stroke="#000" stroke-width="2.5" stroke-linecap="round" stroke-linejoin="miter"/>
<line x1="277.8" y1="701.3" x2="287.3" y2="701.3" stroke="#000" stroke-width="2.3"/>
<path d="M284.10,704.80 L288.50,701.30 L284.10,697.80" fill="none" stroke="#000" stroke-width="2.5" stroke-linecap="round" stroke-linejoin="miter"/>
<line x1="277.8" y1="726.1" x2="287.3" y2="726.1" stroke="#000" stroke-width="2.3"/>
<path d="M284.10,729.60 L288.50,726.10 L284.10,722.60" fill="none" stroke="#000" stroke-width="2.5" stroke-linecap="round" stroke-linejoin="miter"/>
<path d="M521.20,676.40L544.60,663.40M521.20,676.40L544.60,682.30M521.20,676.40L544.60,701.30M521.20,701.30L544.60,663.40M521.20,701.30L544.60,682.30M521.20,701.30L544.60,701.30M521.20,701.30L544.60,720.20M521.20,701.30L544.60,739.20M521.20,726.10L544.60,701.30M521.20,726.10L544.60,720.20M521.20,726.10L544.60,739.20M544.60,663.40L563.00,663.40M544.60,663.40L563.00,682.30M544.60,682.30L563.00,663.40M544.60,682.30L563.00,682.30M544.60,682.30L563.00,701.30M544.60,701.30L563.00,682.30M544.60,701.30L563.00,701.30M544.60,701.30L563.00,720.20M544.60,720.20L563.00,701.30M544.60,720.20L563.00,720.20M544.60,720.20L563.00,739.20M544.60,739.20L563.00,720.20M544.60,739.20L563.00,739.20M563.00,663.40L586.60,676.40M563.00,663.40L586.60,701.30M563.00,682.30L586.60,676.40M563.00,682.30L586.60,701.30M563.00,701.30L586.60,676.40M563.00,701.30L586.60,701.30M563.00,701.30L586.60,726.10M563.00,720.20L586.60,701.30M563.00,720.20L586.60,726.10M563.00,739.20L586.60,701.30M563.00,739.20L586.60,726.10" stroke="#000" stroke-width="2.5" fill="none"/>
<circle cx="521.20" cy="676.40" r="3.65" fill="#ee8088" stroke="#000" stroke-width="2.5"/>
<circle cx="521.20" cy="701.30" r="3.65" fill="#ee8088" stroke="#000" stroke-width="2.5"/>
<circle cx="521.20" cy="726.10" r="3.65" fill="#ee8088" stroke="#000" stroke-width="2.5"/>
<circle cx="544.60" cy="663.40" r="3.65" fill="#c9eded" stroke="#000" stroke-width="2.5"/>
<circle cx="544.60" cy="682.30" r="3.65" fill="#c9eded" stroke="#000" stroke-width="2.5"/>
<circle cx="544.60" cy="701.30" r="3.65" fill="#c9eded" stroke="#000" stroke-width="2.5"/>
<circle cx="544.60" cy="720.20" r="3.65" fill="#c9eded" stroke="#000" stroke-width="2.5"/>
<circle cx="544.60" cy="739.20" r="3.65" fill="#c9eded" stroke="#000" stroke-width="2.5"/>
<circle cx="563.00" cy="663.40" r="3.65" fill="#f6c85a" stroke="#000" stroke-width="2.5"/>
<circle cx="563.00" cy="682.30" r="3.65" fill="#f6c85a" stroke="#000" stroke-width="2.5"/>
<circle cx="563.00" cy="701.30" r="3.65" fill="#f6c85a" stroke="#000" stroke-width="2.5"/>
<circle cx="563.00" cy="720.20" r="3.65" fill="#f6c85a" stroke="#000" stroke-width="2.5"/>
<circle cx="563.00" cy="739.20" r="3.65" fill="#f6c85a" stroke="#000" stroke-width="2.5"/>
<circle cx="586.60" cy="676.40" r="3.65" fill="#62c6a0" stroke="#000" stroke-width="2.5"/>
<circle cx="586.60" cy="701.30" r="3.65" fill="#62c6a0" stroke="#000" stroke-width="2.5"/>
<circle cx="586.60" cy="726.10" r="3.65" fill="#62c6a0" stroke="#000" stroke-width="2.5"/>
<line x1="590.6" y1="676.4" x2="600.1" y2="676.4" stroke="#000" stroke-width="2.3"/>
<path d="M596.90,679.90 L601.30,676.40 L596.90,672.90" fill="none" stroke="#000" stroke-width="2.5" stroke-linecap="round" stroke-linejoin="miter"/>
<line x1="590.6" y1="701.3" x2="600.1" y2="701.3" stroke="#000" stroke-width="2.3"/>
<path d="M596.90,704.80 L601.30,701.30 L596.90,697.80" fill="none" stroke="#000" stroke-width="2.5" stroke-linecap="round" stroke-linejoin="miter"/>
<line x1="590.6" y1="726.1" x2="600.1" y2="726.1" stroke="#000" stroke-width="2.3"/>
<path d="M596.90,729.60 L601.30,726.10 L596.90,722.60" fill="none" stroke="#000" stroke-width="2.5" stroke-linecap="round" stroke-linejoin="miter"/>
<path d="M812.00,676.40L835.40,663.40M812.00,676.40L835.40,682.30M812.00,676.40L835.40,701.30M812.00,701.30L835.40,663.40M812.00,701.30L835.40,682.30M812.00,701.30L835.40,701.30M812.00,701.30L835.40,720.20M812.00,701.30L835.40,739.20M812.00,726.10L835.40,701.30M812.00,726.10L835.40,720.20M812.00,726.10L835.40,739.20M835.40,663.40L853.80,663.40M835.40,663.40L853.80,682.30M835.40,682.30L853.80,663.40M835.40,682.30L853.80,682.30M835.40,682.30L853.80,701.30M835.40,701.30L853.80,682.30M835.40,701.30L853.80,701.30M835.40,701.30L853.80,720.20M835.40,720.20L853.80,701.30M835.40,720.20L853.80,720.20M835.40,720.20L853.80,739.20M835.40,739.20L853.80,720.20M835.40,739.20L853.80,739.20M853.80,663.40L877.40,676.40M853.80,663.40L877.40,701.30M853.80,682.30L877.40,676.40M853.80,682.30L877.40,701.30M853.80,701.30L877.40,676.40M853.80,701.30L877.40,701.30M853.80,701.30L877.40,726.10M853.80,720.20L877.40,701.30M853.80,720.20L877.40,726.10M853.80,739.20L877.40,701.30M853.80,739.20L877.40,726.10" stroke="#000" stroke-width="2.5" fill="none"/>
<circle cx="812.00" cy="676.40" r="3.65" fill="#ee8088" stroke="#000" stroke-width="2.5"/>
<circle cx="812.00" cy="701.30" r="3.65" fill="#ee8088" stroke="#000" stroke-width="2.5"/>
<circle cx="812.00" cy="726.10" r="3.65" fill="#ee8088" stroke="#000" stroke-width="2.5"/>
<circle cx="835.40" cy="663.40" r="3.65" fill="#c9eded" stroke="#000" stroke-width="2.5"/>
<circle cx="835.40" cy="682.30" r="3.65" fill="#c9eded" stroke="#000" stroke-width="2.5"/>
<circle cx="835.40" cy="701.30" r="3.65" fill="#c9eded" stroke="#000" stroke-width="2.5"/>
<circle cx="835.40" cy="720.20" r="3.65" fill="#c9eded" stroke="#000" stroke-width="2.5"/>
<circle cx="835.40" cy="739.20" r="3.65" fill="#c9eded" stroke="#000" stroke-width="2.5"/>
<circle cx="853.80" cy="663.40" r="3.65" fill="#f6c85a" stroke="#000" stroke-width="2.5"/>
<circle cx="853.80" cy="682.30" r="3.65" fill="#f6c85a" stroke="#000" stroke-width="2.5"/>
<circle cx="853.80" cy="701.30" r="3.65" fill="#f6c85a" stroke="#000" stroke-width="2.5"/>
<circle cx="853.80" cy="720.20" r="3.65" fill="#f6c85a" stroke="#000" stroke-width="2.5"/>
<circle cx="853.80" cy="739.20" r="3.65" fill="#f6c85a" stroke="#000" stroke-width="2.5"/>
<circle cx="877.40" cy="676.40" r="3.65" fill="#62c6a0" stroke="#000" stroke-width="2.5"/>
<circle cx="877.40" cy="701.30" r="3.65" fill="#62c6a0" stroke="#000" stroke-width="2.5"/>
<circle cx="877.40" cy="726.10" r="3.65" fill="#62c6a0" stroke="#000" stroke-width="2.5"/>
<line x1="881.4" y1="676.4" x2="890.9" y2="676.4" stroke="#000" stroke-width="2.3"/>
<path d="M887.70,679.90 L892.10,676.40 L887.70,672.90" fill="none" stroke="#000" stroke-width="2.5" stroke-linecap="round" stroke-linejoin="miter"/>
<line x1="881.4" y1="701.3" x2="890.9" y2="701.3" stroke="#000" stroke-width="2.3"/>
<path d="M887.70,704.80 L892.10,701.30 L887.70,697.80" fill="none" stroke="#000" stroke-width="2.5" stroke-linecap="round" stroke-linejoin="miter"/>
<line x1="881.4" y1="726.1" x2="890.9" y2="726.1" stroke="#000" stroke-width="2.3"/>
<path d="M887.70,729.60 L892.10,726.10 L887.70,722.60" fill="none" stroke="#000" stroke-width="2.5" stroke-linecap="round" stroke-linejoin="miter"/>
<path d="M1114.00,676.40L1137.40,663.40M1114.00,676.40L1137.40,682.30M1114.00,676.40L1137.40,701.30M1114.00,701.30L1137.40,663.40M1114.00,701.30L1137.40,682.30M1114.00,701.30L1137.40,701.30M1114.00,701.30L1137.40,720.20M1114.00,701.30L1137.40,739.20M1114.00,726.10L1137.40,701.30M1114.00,726.10L1137.40,720.20M1114.00,726.10L1137.40,739.20M1137.40,663.40L1155.80,663.40M1137.40,663.40L1155.80,682.30M1137.40,682.30L1155.80,663.40M1137.40,682.30L1155.80,682.30M1137.40,682.30L1155.80,701.30M1137.40,701.30L1155.80,682.30M1137.40,701.30L1155.80,701.30M1137.40,701.30L1155.80,720.20M1137.40,720.20L1155.80,701.30M1137.40,720.20L1155.80,720.20M1137.40,720.20L1155.80,739.20M1137.40,739.20L1155.80,720.20M1137.40,739.20L1155.80,739.20M1155.80,663.40L1179.40,676.40M1155.80,663.40L1179.40,701.30M1155.80,682.30L1179.40,676.40M1155.80,682.30L1179.40,701.30M1155.80,701.30L1179.40,676.40M1155.80,701.30L1179.40,701.30M1155.80,701.30L1179.40,726.10M1155.80,720.20L1179.40,701.30M1155.80,720.20L1179.40,726.10M1155.80,739.20L1179.40,701.30M1155.80,739.20L1179.40,726.10" stroke="#000" stroke-width="2.5" fill="none"/>
<circle cx="1114.00" cy="676.40" r="3.65" fill="#ee8088" stroke="#000" stroke-width="2.5"/>
<circle cx="1114.00" cy="701.30" r="3.65" fill="#ee8088" stroke="#000" stroke-width="2.5"/>
<circle cx="1114.00" cy="726.10" r="3.65" fill="#ee8088" stroke="#000" stroke-width="2.5"/>
<circle cx="1137.40" cy="663.40" r="3.65" fill="#c9eded" stroke="#000" stroke-width="2.5"/>
<circle cx="1137.40" cy="682.30" r="3.65" fill="#c9eded" stroke="#000" stroke-width="2.5"/>
<circle cx="1137.40" cy="701.30" r="3.65" fill="#c9eded" stroke="#000" stroke-width="2.5"/>
<circle cx="1137.40" cy="720.20" r="3.65" fill="#c9eded" stroke="#000" stroke-width="2.5"/>
<circle cx="1137.40" cy="739.20" r="3.65" fill="#c9eded" stroke="#000" stroke-width="2.5"/>
<circle cx="1155.80" cy="663.40" r="3.65" fill="#f6c85a" stroke="#000" stroke-width="2.5"/>
<circle cx="1155.80" cy="682.30" r="3.65" fill="#f6c85a" stroke="#000" stroke-width="2.5"/>
<circle cx="1155.80" cy="701.30" r="3.65" fill="#f6c85a" stroke="#000" stroke-width="2.5"/>
<circle cx="1155.80" cy="720.20" r="3.65" fill="#f6c85a" stroke="#000" stroke-width="2.5"/>
<circle cx="1155.80" cy="739.20" r="3.65" fill="#f6c85a" stroke="#000" stroke-width="2.5"/>
<circle cx="1179.40" cy="676.40" r="3.65" fill="#62c6a0" stroke="#000" stroke-width="2.5"/>
<circle cx="1179.40" cy="701.30" r="3.65" fill="#62c6a0" stroke="#000" stroke-width="2.5"/>
<circle cx="1179.40" cy="726.10" r="3.65" fill="#62c6a0" stroke="#000" stroke-width="2.5"/>
<line x1="1183.4" y1="676.4" x2="1192.9" y2="676.4" stroke="#000" stroke-width="2.3"/>
<path d="M1189.70,679.90 L1194.10,676.40 L1189.70,672.90" fill="none" stroke="#000" stroke-width="2.5" stroke-linecap="round" stroke-linejoin="miter"/>
<line x1="1183.4" y1="701.3" x2="1192.9" y2="701.3" stroke="#000" stroke-width="2.3"/>
<path d="M1189.70,704.80 L1194.10,701.30 L1189.70,697.80" fill="none" stroke="#000" stroke-width="2.5" stroke-linecap="round" stroke-linejoin="miter"/>
<line x1="1183.4" y1="726.1" x2="1192.9" y2="726.1" stroke="#000" stroke-width="2.3"/>
<path d="M1189.70,729.60 L1194.10,726.10 L1189.70,722.60" fill="none" stroke="#000" stroke-width="2.5" stroke-linecap="round" stroke-linejoin="miter"/>
<text x="765.9" y="560.4" font-family='"Liberation Sans", sans-serif' font-size="19.6" text-anchor="start" textLength="176.4" lengthAdjust="spacingAndGlyphs"  style="">Not all devices join</text>
<text x="782.2" y="586.6" font-family='"Liberation Sans", sans-serif' font-size="19.6" text-anchor="start" textLength="142.6" lengthAdjust="spacingAndGlyphs"  style="">training rounds</text>
<path d="M838.0,602.2 L858.8,622.6 M858.8,602.2 L838.0,622.6" fill="none" stroke="#000" stroke-width="4.0" />
<line x1="848.4" y1="612" x2="848.4" y2="640.5" stroke="#000" stroke-width="2.2"/>
<rect x="222.1" y="754.8" width="36.8" height="65" rx="4.6" fill="#000"/>
<rect x="225.7" y="762.8" width="29.4" height="42" fill="#fff"/>
<rect x="232.8" y="757.8" width="14.9" height="2.6" rx="1.3" fill="#fff"/>
<circle cx="240.4" cy="812.2" r="3.1" fill="#fff"/>
<path d="M538.6,766.2 L571,766.2 Q574.3,766.2 575.3,769.3 L580,784.8 L529.3,784.8 L534.3,769.3 Q535.3,766.2 538.6,766.2 Z" fill="#000"/>
<path d="M540.3,771.4 L569.0,771.4 L573.8,784.4 L535.4,784.4 Z" fill="#fff"/>
<rect x="527.8" y="784.4" width="53.6" height="15.8" rx="2.2" fill="#000"/>
<rect x="527.8" y="795" width="9.8" height="13.6" rx="1.6" fill="#000"/>
<rect x="571.3" y="795" width="10.1" height="13.6" rx="1.6" fill="#000"/>
<rect x="522" y="778.2" width="10" height="5.9" rx="2.9" fill="#000"/>
<rect x="577.4" y="778.2" width="9.6" height="5.9" rx="2.9" fill="#000"/>
<path d="M531.6,784.6 L534,780 L536,784.6 Z M575.6,784.6 L577.8,780 L579.6,784.6 Z" fill="#000"/>
<rect x="532.1" y="788.3" width="10.9" height="4.8" rx="2.4" fill="#fff"/>
<rect x="565.8" y="788.3" width="10.9" height="4.8" rx="2.4" fill="#fff"/>
<circle cx="848.3" cy="781.1" r="3.7" fill="none" stroke="#000" stroke-width="1.9"/>
<circle cx="848.3" cy="781.1" r="0.8" fill="#000"/>
<path d="M842.16,789.86 A10.7,10.7 0 0 1 842.16,772.34" fill="none" stroke="#000" stroke-width="1.9" stroke-linecap="round"/>
<path d="M854.44,772.34 A10.7,10.7 0 0 1 854.44,789.86" fill="none" stroke="#000" stroke-width="1.9" stroke-linecap="round"/>
<path d="M838.84,794.62 A16.5,16.5 0 0 1 838.84,767.58" fill="none" stroke="#000" stroke-width="1.9" stroke-linecap="round"/>
<path d="M857.76,767.58 A16.5,16.5 0 0 1 857.76,794.62" fill="none" stroke="#000" stroke-width="1.9" stroke-linecap="round"/>
<path d="M834.13,800.60 A24.1,24.1 0 0 1 834.13,761.60" fill="none" stroke="#000" stroke-width="1.9" stroke-linecap="round"/>
<path d="M862.47,761.60 A24.1,24.1 0 0 1 862.47,800.60" fill="none" stroke="#000" stroke-width="1.9" stroke-linecap="round"/>
<path d="M829.22,806.42 A31.7,31.7 0 0 1 829.22,755.78" fill="none" stroke="#000" stroke-width="1.9" stroke-linecap="round"/>
<path d="M867.38,755.78 A31.7,31.7 0 0 1 867.38,806.42" fill="none" stroke="#000" stroke-width="1.9" stroke-linecap="round"/>
<line x1="848.3" y1="785.6" x2="848.3" y2="799.6" stroke="#000" stroke-width="1.7"/>
<rect x="844.6" y="799.6" width="7.5" height="19.1" rx="1.4" fill="none" stroke="#000" stroke-width="1.8"/>
<line x1="844.6" y1="813.8" x2="852.1" y2="813.8" stroke="#000" stroke-width="1.5"/>
<rect x="1121.05" y="768.95" width="49.9" height="32.4" rx="2" fill="none" stroke="#000" stroke-width="2.3"/>
<path d="M1113.4,803.6 L1178.5,803.6 L1177.5,805.6 Q1176.6,807 1175,807 L1116.8,807 Q1115.2,807 1114.4,805.6 Z" fill="#000"/>
<rect x="1139.8" y="803.6" width="12.3" height="1.2" fill="#fff"/>
<defs><filter id="bl" x="-20%" y="-20%" width="140%" height="140%"><feGaussianBlur stdDeviation="2.6"/></filter></defs>
<clipPath id="cA1"><rect x="153.10" y="830.60" width="58.07" height="57.90"/></clipPath>
<g clip-path="url(#cA1)"><g filter="url(#bl)"><rect x="143.10" y="820.60" width="19.98" height="19.95" fill="#965a50"/><rect x="162.78" y="820.60" width="9.98" height="19.95" fill="#8c5a3c"/><rect x="172.46" y="820.60" width="9.98" height="19.95" fill="#965f46"/><rect x="182.13" y="820.60" width="9.98" height="19.95" fill="#b4695f"/><rect x="191.81" y="820.60" width="9.98" height="19.95" fill="#b96964"/><rect x="201.49" y="820.60" width="19.98" height="19.95" fill="#b46e69"/><rect x="143.10" y="840.25" width="19.98" height="9.95" fill="#5a5a3c"/><rect x="162.78" y="840.25" width="9.98" height="9.95" fill="#d2c88c"/><rect x="172.46" y="840.25" width="9.98" height="9.95" fill="#96643c"/><rect x="182.13" y="840.25" width="9.98" height="9.95" fill="#965f41"/><rect x="191.81" y="840.25" width="9.98" height="9.95" fill="#be6e64"/><rect x="201.49" y="840.25" width="19.98" height="9.95" fill="#c3736e"/><rect x="143.10" y="849.90" width="19.98" height="9.95" fill="#788c50"/><rect x="162.78" y="849.90" width="9.98" height="9.95" fill="#e6d78c"/><rect x="172.46" y="849.90" width="9.98" height="9.95" fill="#c88c3c"/><rect x="182.13" y="849.90" width="9.98" height="9.95" fill="#be823c"/><rect x="191.81" y="849.90" width="9.98" height="9.95" fill="#aa6e50"/><rect x="201.49" y="849.90" width="19.98" height="9.95" fill="#c87369"/><rect x="143.10" y="859.55" width="19.98" height="9.95" fill="#aa5a5a"/><rect x="162.78" y="859.55" width="9.98" height="9.95" fill="#aa9664"/><rect x="172.46" y="859.55" width="9.98" height="9.95" fill="#c8a046"/><rect x="182.13" y="859.55" width="9.98" height="9.95" fill="#be8c3c"/><rect x="191.81" y="859.55" width="9.98" height="9.95" fill="#aa8250"/><rect x="201.49" y="859.55" width="19.98" height="9.95" fill="#be826e"/><rect x="143.10" y="869.20" width="19.98" height="9.95" fill="#c8645a"/><rect x="162.78" y="869.20" width="9.98" height="9.95" fill="#d26e64"/><rect x="172.46" y="869.20" width="9.98" height="9.95" fill="#c86e5a"/><rect x="182.13" y="869.20" width="9.98" height="9.95" fill="#a08250"/><rect x="191.81" y="869.20" width="9.98" height="9.95" fill="#b4965a"/><rect x="201.49" y="869.20" width="19.98" height="9.95" fill="#c87864"/><rect x="143.10" y="878.85" width="19.98" height="19.95" fill="#d76e64"/><rect x="162.78" y="878.85" width="9.98" height="19.95" fill="#dc7369"/><rect x="172.46" y="878.85" width="9.98" height="19.95" fill="#d77364"/><rect x="182.13" y="878.85" width="9.98" height="19.95" fill="#aa825a"/><rect x="191.81" y="878.85" width="9.98" height="19.95" fill="#c87864"/><rect x="201.49" y="878.85" width="19.98" height="19.95" fill="#d77369"/></g></g>
<clipPath id="cA2"><rect x="211.17" y="830.60" width="58.07" height="57.90"/></clipPath>
<g clip-path="url(#cA2)"><g filter="url(#bl)"><rect x="201.17" y="820.60" width="19.98" height="19.95" fill="#789664"/><rect x="220.85" y="820.60" width="9.98" height="19.95" fill="#78a064"/><rect x="230.53" y="820.60" width="9.98" height="19.95" fill="#82a56e"/><rect x="240.20" y="820.60" width="9.98" height="19.95" fill="#7da069"/><rect x="249.88" y="820.60" width="9.98" height="19.95" fill="#6e8c5f"/><rect x="259.56" y="820.60" width="19.98" height="19.95" fill="#6e825f"/><rect x="201.17" y="840.25" width="19.98" height="9.95" fill="#8ca078"/><rect x="220.85" y="840.25" width="9.98" height="9.95" fill="#969682"/><rect x="230.53" y="840.25" width="9.98" height="9.95" fill="#82aa64"/><rect x="240.20" y="840.25" width="9.98" height="9.95" fill="#789664"/><rect x="249.88" y="840.25" width="9.98" height="9.95" fill="#aaaa96"/><rect x="259.56" y="840.25" width="19.98" height="9.95" fill="#969682"/><rect x="201.17" y="849.90" width="19.98" height="9.95" fill="#969b82"/><rect x="220.85" y="849.90" width="9.98" height="9.95" fill="#82966e"/><rect x="230.53" y="849.90" width="9.98" height="9.95" fill="#646e78"/><rect x="240.20" y="849.90" width="9.98" height="9.95" fill="#8c96aa"/><rect x="249.88" y="849.90" width="9.98" height="9.95" fill="#b4a096"/><rect x="259.56" y="849.90" width="19.98" height="9.95" fill="#aa968c"/><rect x="201.17" y="859.55" width="19.98" height="9.95" fill="#82a06e"/><rect x="220.85" y="859.55" width="9.98" height="9.95" fill="#8c968c"/><rect x="230.53" y="859.55" width="9.98" height="9.95" fill="#78828c"/><rect x="240.20" y="859.55" width="9.98" height="9.95" fill="#8c8c78"/><rect x="249.88" y="859.55" width="9.98" height="9.95" fill="#96a06e"/><rect x="259.56" y="859.55" width="19.98" height="9.95" fill="#a09678"/><rect x="201.17" y="869.20" width="19.98" height="9.95" fill="#6e965a"/><rect x="220.85" y="869.20" width="9.98" height="9.95" fill="#8ca0b4"/><rect x="230.53" y="869.20" width="9.98" height="9.95" fill="#6e7878"/><rect x="240.20" y="869.20" width="9.98" height="9.95" fill="#788282"/><rect x="249.88" y="869.20" width="9.98" height="9.95" fill="#8c8c64"/><rect x="259.56" y="869.20" width="19.98" height="9.95" fill="#be8c78"/><rect x="201.17" y="878.85" width="19.98" height="19.95" fill="#506e46"/><rect x="220.85" y="878.85" width="9.98" height="19.95" fill="#aaa096"/><rect x="230.53" y="878.85" width="9.98" height="19.95" fill="#aa6e64"/><rect x="240.20" y="878.85" width="9.98" height="19.95" fill="#b47864"/><rect x="249.88" y="878.85" width="9.98" height="19.95" fill="#be826e"/><rect x="259.56" y="878.85" width="19.98" height="19.95" fill="#c88c78"/></g></g>
<clipPath id="cA3"><rect x="269.24" y="830.60" width="58.07" height="57.90"/></clipPath>
<g clip-path="url(#cA3)"><g filter="url(#bl)"><rect x="259.24" y="820.60" width="19.98" height="19.95" fill="#6e6464"/><rect x="278.92" y="820.60" width="9.98" height="19.95" fill="#8c7864"/><rect x="288.60" y="820.60" width="9.98" height="19.95" fill="#c8aa82"/><rect x="298.27" y="820.60" width="9.98" height="19.95" fill="#c8a578"/><rect x="307.95" y="820.60" width="9.98" height="19.95" fill="#d2b48c"/><rect x="317.63" y="820.60" width="19.98" height="19.95" fill="#96785a"/><rect x="259.24" y="840.25" width="19.98" height="9.95" fill="#786e6e"/><rect x="278.92" y="840.25" width="9.98" height="9.95" fill="#bea078"/><rect x="288.60" y="840.25" width="9.98" height="9.95" fill="#c8a078"/><rect x="298.27" y="840.25" width="9.98" height="9.95" fill="#be966e"/><rect x="307.95" y="840.25" width="9.98" height="9.95" fill="#aa9678"/><rect x="317.63" y="840.25" width="19.98" height="9.95" fill="#dcbe96"/><rect x="259.24" y="849.90" width="19.98" height="9.95" fill="#645050"/><rect x="278.92" y="849.90" width="9.98" height="9.95" fill="#bea082"/><rect x="288.60" y="849.90" width="9.98" height="9.95" fill="#c8a078"/><rect x="298.27" y="849.90" width="9.98" height="9.95" fill="#d2aa82"/><rect x="307.95" y="849.90" width="9.98" height="9.95" fill="#dcc3a0"/><rect x="317.63" y="849.90" width="19.98" height="9.95" fill="#c8af8c"/><rect x="259.24" y="859.55" width="19.98" height="9.95" fill="#503c3c"/><rect x="278.92" y="859.55" width="9.98" height="9.95" fill="#dcbea0"/><rect x="288.60" y="859.55" width="9.98" height="9.95" fill="#e1c8aa"/><rect x="298.27" y="859.55" width="9.98" height="9.95" fill="#6e3c28"/><rect x="307.95" y="859.55" width="9.98" height="9.95" fill="#64463c"/><rect x="317.63" y="859.55" width="19.98" height="9.95" fill="#b4aaa5"/><rect x="259.24" y="869.20" width="19.98" height="9.95" fill="#64463c"/><rect x="278.92" y="869.20" width="9.98" height="9.95" fill="#aa8c6e"/><rect x="288.60" y="869.20" width="9.98" height="9.95" fill="#3c2828"/><rect x="298.27" y="869.20" width="9.98" height="9.95" fill="#967850"/><rect x="307.95" y="869.20" width="9.98" height="9.95" fill="#c8bea0"/><rect x="317.63" y="869.20" width="19.98" height="9.95" fill="#b9afaa"/><rect x="259.24" y="878.85" width="19.98" height="19.95" fill="#aa8264"/><rect x="278.92" y="878.85" width="9.98" height="19.95" fill="#8c6e50"/><rect x="288.60" y="878.85" width="9.98" height="19.95" fill="#968264"/><rect x="298.27" y="878.85" width="9.98" height="19.95" fill="#beb4aa"/><rect x="307.95" y="878.85" width="9.98" height="19.95" fill="#beb4af"/><rect x="317.63" y="878.85" width="19.98" height="19.95" fill="#beb4af"/></g></g>
<clipPath id="cB1"><rect x="466.90" y="830.60" width="58.07" height="57.90"/></clipPath>
<g clip-path="url(#cB1)"><g filter="url(#bl)"><rect x="456.90" y="820.60" width="19.98" height="19.95" fill="#c8cdcd"/><rect x="476.58" y="820.60" width="9.98" height="19.95" fill="#f0f0eb"/><rect x="486.26" y="820.60" width="9.98" height="19.95" fill="#f0f0e6"/><rect x="495.93" y="820.60" width="9.98" height="19.95" fill="#e6dca0"/><rect x="505.61" y="820.60" width="9.98" height="19.95" fill="#f0ebc8"/><rect x="515.29" y="820.60" width="19.98" height="19.95" fill="#e6e6dc"/><rect x="456.90" y="840.25" width="19.98" height="9.95" fill="#dcc864"/><rect x="476.58" y="840.25" width="9.98" height="9.95" fill="#e1cd64"/><rect x="486.26" y="840.25" width="9.98" height="9.95" fill="#dcc85a"/><rect x="495.93" y="840.25" width="9.98" height="9.95" fill="#e6d264"/><rect x="505.61" y="840.25" width="9.98" height="9.95" fill="#d7c85a"/><rect x="515.29" y="840.25" width="19.98" height="9.95" fill="#e6dc96"/><rect x="456.90" y="849.90" width="19.98" height="9.95" fill="#c8aa3c"/><rect x="476.58" y="849.90" width="9.98" height="9.95" fill="#bea03c"/><rect x="486.26" y="849.90" width="9.98" height="9.95" fill="#bea53c"/><rect x="495.93" y="849.90" width="9.98" height="9.95" fill="#e6d264"/><rect x="505.61" y="849.90" width="9.98" height="9.95" fill="#e6d25a"/><rect x="515.29" y="849.90" width="19.98" height="9.95" fill="#e1cd5a"/><rect x="456.90" y="859.55" width="19.98" height="9.95" fill="#bec3c3"/><rect x="476.58" y="859.55" width="9.98" height="9.95" fill="#50505a"/><rect x="486.26" y="859.55" width="9.98" height="9.95" fill="#323c4b"/><rect x="495.93" y="859.55" width="9.98" height="9.95" fill="#3c465a"/><rect x="505.61" y="859.55" width="9.98" height="9.95" fill="#c8b43c"/><rect x="515.29" y="859.55" width="19.98" height="9.95" fill="#d7c350"/><rect x="456.90" y="869.20" width="19.98" height="9.95" fill="#c8cdcd"/><rect x="476.58" y="869.20" width="9.98" height="9.95" fill="#46505f"/><rect x="486.26" y="869.20" width="9.98" height="9.95" fill="#b4bec8"/><rect x="495.93" y="869.20" width="9.98" height="9.95" fill="#3c465a"/><rect x="505.61" y="869.20" width="9.98" height="9.95" fill="#3c3c46"/><rect x="515.29" y="869.20" width="19.98" height="9.95" fill="#323c3c"/><rect x="456.90" y="878.85" width="19.98" height="19.95" fill="#d7d7d7"/><rect x="476.58" y="878.85" width="9.98" height="19.95" fill="#bebec3"/><rect x="486.26" y="878.85" width="9.98" height="19.95" fill="#a0aab4"/><rect x="495.93" y="878.85" width="9.98" height="19.95" fill="#323c50"/><rect x="505.61" y="878.85" width="9.98" height="19.95" fill="#28323c"/><rect x="515.29" y="878.85" width="19.98" height="19.95" fill="#464646"/></g></g>
<clipPath id="cB2"><rect x="524.97" y="830.60" width="58.07" height="57.90"/></clipPath>
<g clip-path="url(#cB2)"><g filter="url(#bl)"><rect x="514.97" y="820.60" width="19.98" height="19.95" fill="#32372d"/><rect x="534.65" y="820.60" width="9.98" height="19.95" fill="#373c32"/><rect x="544.33" y="820.60" width="9.98" height="19.95" fill="#464637"/><rect x="554.00" y="820.60" width="9.98" height="19.95" fill="#a09b78"/><rect x="563.68" y="820.60" width="9.98" height="19.95" fill="#afaa8c"/><rect x="573.36" y="820.60" width="19.98" height="19.95" fill="#b4af96"/><rect x="514.97" y="840.25" width="19.98" height="9.95" fill="#3c4137"/><rect x="534.65" y="840.25" width="9.98" height="9.95" fill="#3c4137"/><rect x="544.33" y="840.25" width="9.98" height="9.95" fill="#50503c"/><rect x="554.00" y="840.25" width="9.98" height="9.95" fill="#6e6446"/><rect x="563.68" y="840.25" width="9.98" height="9.95" fill="#786e50"/><rect x="573.36" y="840.25" width="19.98" height="9.95" fill="#968c6e"/><rect x="514.97" y="849.90" width="19.98" height="9.95" fill="#5a5f50"/><rect x="534.65" y="849.90" width="9.98" height="9.95" fill="#505046"/><rect x="544.33" y="849.90" width="9.98" height="9.95" fill="#c8be96"/><rect x="554.00" y="849.90" width="9.98" height="9.95" fill="#d2c8a0"/><rect x="563.68" y="849.90" width="9.98" height="9.95" fill="#967850"/><rect x="573.36" y="849.90" width="19.98" height="9.95" fill="#c8c8be"/><rect x="514.97" y="859.55" width="19.98" height="9.95" fill="#282828"/><rect x="534.65" y="859.55" width="9.98" height="9.95" fill="#46463c"/><rect x="544.33" y="859.55" width="9.98" height="9.95" fill="#3c3228"/><rect x="554.00" y="859.55" width="9.98" height="9.95" fill="#5a5a64"/><rect x="563.68" y="859.55" width="9.98" height="9.95" fill="#5a5f6e"/><rect x="573.36" y="859.55" width="19.98" height="9.95" fill="#5a5f6e"/><rect x="514.97" y="869.20" width="19.98" height="9.95" fill="#8c7850"/><rect x="534.65" y="869.20" width="9.98" height="9.95" fill="#aa965a"/><rect x="544.33" y="869.20" width="9.98" height="9.95" fill="#b4a05a"/><rect x="554.00" y="869.20" width="9.98" height="9.95" fill="#78786e"/><rect x="563.68" y="869.20" width="9.98" height="9.95" fill="#646973"/><rect x="573.36" y="869.20" width="19.98" height="9.95" fill="#646973"/><rect x="514.97" y="878.85" width="19.98" height="19.95" fill="#aa9664"/><rect x="534.65" y="878.85" width="9.98" height="19.95" fill="#b4a06e"/><rect x="544.33" y="878.85" width="9.98" height="19.95" fill="#aa9b6e"/><rect x="554.00" y="878.85" width="9.98" height="19.95" fill="#8c8c78"/><rect x="563.68" y="878.85" width="9.98" height="19.95" fill="#646973"/><rect x="573.36" y="878.85" width="19.98" height="19.95" fill="#6e7378"/></g></g>
<clipPath id="cB3"><rect x="583.04" y="830.60" width="58.07" height="57.90"/></clipPath>
<g clip-path="url(#cB3)"><g filter="url(#bl)"><rect x="573.04" y="820.60" width="19.98" height="19.95" fill="#505a3c"/><rect x="592.72" y="820.60" width="9.98" height="19.95" fill="#6e8250"/><rect x="602.40" y="820.60" width="9.98" height="19.95" fill="#5a9650"/><rect x="612.07" y="820.60" width="9.98" height="19.95" fill="#466e32"/><rect x="621.75" y="820.60" width="9.98" height="19.95" fill="#5aa05a"/><rect x="631.43" y="820.60" width="19.98" height="19.95" fill="#6e8c78"/><rect x="573.04" y="840.25" width="19.98" height="9.95" fill="#5aaa64"/><rect x="592.72" y="840.25" width="9.98" height="9.95" fill="#aaa08c"/><rect x="602.40" y="840.25" width="9.98" height="9.95" fill="#646e6e"/><rect x="612.07" y="840.25" width="9.98" height="9.95" fill="#50643c"/><rect x="621.75" y="840.25" width="9.98" height="9.95" fill="#5a8c50"/><rect x="631.43" y="840.25" width="19.98" height="9.95" fill="#508246"/><rect x="573.04" y="849.90" width="19.98" height="9.95" fill="#5a9650"/><rect x="592.72" y="849.90" width="9.98" height="9.95" fill="#786e78"/><rect x="602.40" y="849.90" width="9.98" height="9.95" fill="#64646e"/><rect x="612.07" y="849.90" width="9.98" height="9.95" fill="#c8a0be"/><rect x="621.75" y="849.90" width="9.98" height="9.95" fill="#50783c"/><rect x="631.43" y="849.90" width="19.98" height="9.95" fill="#508c46"/><rect x="573.04" y="859.55" width="19.98" height="9.95" fill="#46783c"/><rect x="592.72" y="859.55" width="9.98" height="9.95" fill="#6e646e"/><rect x="602.40" y="859.55" width="9.98" height="9.95" fill="#5a5a64"/><rect x="612.07" y="859.55" width="9.98" height="9.95" fill="#be96b4"/><rect x="621.75" y="859.55" width="9.98" height="9.95" fill="#46643c"/><rect x="631.43" y="859.55" width="19.98" height="9.95" fill="#6e5046"/><rect x="573.04" y="869.20" width="19.98" height="9.95" fill="#b482aa"/><rect x="592.72" y="869.20" width="9.98" height="9.95" fill="#6e5a64"/><rect x="602.40" y="869.20" width="9.98" height="9.95" fill="#645050"/><rect x="612.07" y="869.20" width="9.98" height="9.95" fill="#c8aac8"/><rect x="621.75" y="869.20" width="9.98" height="9.95" fill="#5a5046"/><rect x="631.43" y="869.20" width="19.98" height="9.95" fill="#50463c"/><rect x="573.04" y="878.85" width="19.98" height="19.95" fill="#466e32"/><rect x="592.72" y="878.85" width="9.98" height="19.95" fill="#be8cb4"/><rect x="602.40" y="878.85" width="9.98" height="19.95" fill="#6e6464"/><rect x="612.07" y="878.85" width="9.98" height="19.95" fill="#d2b4d2"/><rect x="621.75" y="878.85" width="9.98" height="19.95" fill="#505046"/><rect x="631.43" y="878.85" width="19.98" height="19.95" fill="#3c3c32"/></g></g>
<clipPath id="cC1"><rect x="763.10" y="830.60" width="58.07" height="57.90"/></clipPath>
<g clip-path="url(#cC1)"><g filter="url(#bl)"><rect x="753.10" y="820.60" width="19.98" height="19.95" fill="#6e5064"/><rect x="772.78" y="820.60" width="9.98" height="19.95" fill="#78555f"/><rect x="782.46" y="820.60" width="9.98" height="19.95" fill="#d2d2d2"/><rect x="792.13" y="820.60" width="9.98" height="19.95" fill="#c8c3be"/><rect x="801.81" y="820.60" width="9.98" height="19.95" fill="#785055"/><rect x="811.49" y="820.60" width="19.98" height="19.95" fill="#6e4b50"/><rect x="753.10" y="840.25" width="19.98" height="9.95" fill="#82646e"/><rect x="772.78" y="840.25" width="9.98" height="9.95" fill="#c8c8d2"/><rect x="782.46" y="840.25" width="9.98" height="9.95" fill="#5a4664"/><rect x="792.13" y="840.25" width="9.98" height="9.95" fill="#8c5a5a"/><rect x="801.81" y="840.25" width="9.98" height="9.95" fill="#825a5a"/><rect x="811.49" y="840.25" width="19.98" height="9.95" fill="#785050"/><rect x="753.10" y="849.90" width="19.98" height="9.95" fill="#d2d2dc"/><rect x="772.78" y="849.90" width="9.98" height="9.95" fill="#64506e"/><rect x="782.46" y="849.90" width="9.98" height="9.95" fill="#966e64"/><rect x="792.13" y="849.90" width="9.98" height="9.95" fill="#aa7864"/><rect x="801.81" y="849.90" width="9.98" height="9.95" fill="#a06e64"/><rect x="811.49" y="849.90" width="19.98" height="9.95" fill="#8c5a5a"/><rect x="753.10" y="859.55" width="19.98" height="9.95" fill="#3c3250"/><rect x="772.78" y="859.55" width="9.98" height="9.95" fill="#6e5a6e"/><rect x="782.46" y="859.55" width="9.98" height="9.95" fill="#a0786e"/><rect x="792.13" y="859.55" width="9.98" height="9.95" fill="#aa786e"/><rect x="801.81" y="859.55" width="9.98" height="9.95" fill="#aa786e"/><rect x="811.49" y="859.55" width="19.98" height="9.95" fill="#b48282"/><rect x="753.10" y="869.20" width="19.98" height="9.95" fill="#8c6464"/><rect x="772.78" y="869.20" width="9.98" height="9.95" fill="#3c3c5a"/><rect x="782.46" y="869.20" width="9.98" height="9.95" fill="#3c4664"/><rect x="792.13" y="869.20" width="9.98" height="9.95" fill="#c8c8c8"/><rect x="801.81" y="869.20" width="9.98" height="9.95" fill="#d2d2d2"/><rect x="811.49" y="869.20" width="19.98" height="9.95" fill="#966e6e"/><rect x="753.10" y="878.85" width="19.98" height="19.95" fill="#8c645a"/><rect x="772.78" y="878.85" width="9.98" height="19.95" fill="#6e5a5a"/><rect x="782.46" y="878.85" width="9.98" height="19.95" fill="#46506e"/><rect x="792.13" y="878.85" width="9.98" height="19.95" fill="#dcdcdc"/><rect x="801.81" y="878.85" width="9.98" height="19.95" fill="#c8c8c8"/><rect x="811.49" y="878.85" width="19.98" height="19.95" fill="#6e5a5a"/></g></g>
<clipPath id="cC2"><rect x="821.17" y="830.60" width="58.07" height="57.90"/></clipPath>
<g clip-path="url(#cC2)"><g filter="url(#bl)"><rect x="811.17" y="820.60" width="19.98" height="19.95" fill="#466e32"/><rect x="830.85" y="820.60" width="9.98" height="19.95" fill="#5a823c"/><rect x="840.53" y="820.60" width="9.98" height="19.95" fill="#78a050"/><rect x="850.21" y="820.60" width="9.98" height="19.95" fill="#648c46"/><rect x="859.88" y="820.60" width="9.98" height="19.95" fill="#3c5a28"/><rect x="869.56" y="820.60" width="19.98" height="19.95" fill="#648250"/><rect x="811.17" y="840.25" width="19.98" height="9.95" fill="#6e9650"/><rect x="830.85" y="840.25" width="9.98" height="9.95" fill="#8cb464"/><rect x="840.53" y="840.25" width="9.98" height="9.95" fill="#a0aa8c"/><rect x="850.21" y="840.25" width="9.98" height="9.95" fill="#b4aaa0"/><rect x="859.88" y="840.25" width="9.98" height="9.95" fill="#5a783c"/><rect x="869.56" y="840.25" width="19.98" height="9.95" fill="#506e3c"/><rect x="811.17" y="849.90" width="19.98" height="9.95" fill="#dc3228"/><rect x="830.85" y="849.90" width="9.98" height="9.95" fill="#e63c32"/><rect x="840.53" y="849.90" width="9.98" height="9.95" fill="#dc3228"/><rect x="850.21" y="849.90" width="9.98" height="9.95" fill="#aa2828"/><rect x="859.88" y="849.90" width="9.98" height="9.95" fill="#dc3c32"/><rect x="869.56" y="849.90" width="19.98" height="9.95" fill="#648250"/><rect x="811.17" y="859.55" width="19.98" height="9.95" fill="#d24632"/><rect x="830.85" y="859.55" width="9.98" height="9.95" fill="#e66e3c"/><rect x="840.53" y="859.55" width="9.98" height="9.95" fill="#dc4632"/><rect x="850.21" y="859.55" width="9.98" height="9.95" fill="#dc3c32"/><rect x="859.88" y="859.55" width="9.98" height="9.95" fill="#dc463c"/><rect x="869.56" y="859.55" width="19.98" height="9.95" fill="#8ca08c"/><rect x="811.17" y="869.20" width="19.98" height="9.95" fill="#504650"/><rect x="830.85" y="869.20" width="9.98" height="9.95" fill="#a03232"/><rect x="840.53" y="869.20" width="9.98" height="9.95" fill="#c8503c"/><rect x="850.21" y="869.20" width="9.98" height="9.95" fill="#50505a"/><rect x="859.88" y="869.20" width="9.98" height="9.95" fill="#c86446"/><rect x="869.56" y="869.20" width="19.98" height="9.95" fill="#8c9696"/><rect x="811.17" y="878.85" width="19.98" height="19.95" fill="#646e82"/><rect x="830.85" y="878.85" width="9.98" height="19.95" fill="#6e788c"/><rect x="840.53" y="878.85" width="9.98" height="19.95" fill="#828c96"/><rect x="850.21" y="878.85" width="9.98" height="19.95" fill="#969ba5"/><rect x="859.88" y="878.85" width="9.98" height="19.95" fill="#78828c"/><rect x="869.56" y="878.85" width="19.98" height="19.95" fill="#6e7882"/></g></g>
<clipPath id="cC3"><rect x="879.24" y="830.60" width="58.07" height="57.90"/></clipPath>
<g clip-path="url(#cC3)"><g filter="url(#bl)"><rect x="869.24" y="820.60" width="19.98" height="19.95" fill="#323237"/><rect x="888.92" y="820.60" width="9.98" height="19.95" fill="#50505a"/><rect x="898.60" y="820.60" width="9.98" height="19.95" fill="#46463c"/><rect x="908.27" y="820.60" width="9.98" height="19.95" fill="#6e8246"/><rect x="917.95" y="820.60" width="9.98" height="19.95" fill="#8c8c5a"/><rect x="927.63" y="820.60" width="19.98" height="19.95" fill="#3c3232"/><rect x="869.24" y="840.25" width="19.98" height="9.95" fill="#464650"/><rect x="888.92" y="840.25" width="9.98" height="9.95" fill="#5a5a64"/><rect x="898.60" y="840.25" width="9.98" height="9.95" fill="#788c3c"/><rect x="908.27" y="840.25" width="9.98" height="9.95" fill="#826e46"/><rect x="917.95" y="840.25" width="9.98" height="9.95" fill="#96966e"/><rect x="927.63" y="840.25" width="19.98" height="9.95" fill="#463c3c"/><rect x="869.24" y="849.90" width="19.98" height="9.95" fill="#5a643c"/><rect x="888.92" y="849.90" width="9.98" height="9.95" fill="#6e8232"/><rect x="898.60" y="849.90" width="9.98" height="9.95" fill="#8c9646"/><rect x="908.27" y="849.90" width="9.98" height="9.95" fill="#50463c"/><rect x="917.95" y="849.90" width="9.98" height="9.95" fill="#5a5050"/><rect x="927.63" y="849.90" width="19.98" height="9.95" fill="#3c3c3c"/><rect x="869.24" y="859.55" width="19.98" height="9.95" fill="#788c3c"/><rect x="888.92" y="859.55" width="9.98" height="9.95" fill="#646e32"/><rect x="898.60" y="859.55" width="9.98" height="9.95" fill="#505032"/><rect x="908.27" y="859.55" width="9.98" height="9.95" fill="#645a50"/><rect x="917.95" y="859.55" width="9.98" height="9.95" fill="#282828"/><rect x="927.63" y="859.55" width="19.98" height="9.95" fill="#464646"/><rect x="869.24" y="869.20" width="19.98" height="9.95" fill="#505032"/><rect x="888.92" y="869.20" width="9.98" height="9.95" fill="#64643c"/><rect x="898.60" y="869.20" width="9.98" height="9.95" fill="#5a643c"/><rect x="908.27" y="869.20" width="9.98" height="9.95" fill="#323232"/><rect x="917.95" y="869.20" width="9.98" height="9.95" fill="#1e2323"/><rect x="927.63" y="869.20" width="19.98" height="9.95" fill="#3c3c3c"/><rect x="869.24" y="878.85" width="19.98" height="19.95" fill="#64503c"/><rect x="888.92" y="878.85" width="9.98" height="19.95" fill="#967864"/><rect x="898.60" y="878.85" width="9.98" height="19.95" fill="#6e5a46"/><rect x="908.27" y="878.85" width="9.98" height="19.95" fill="#282828"/><rect x="917.95" y="878.85" width="9.98" height="19.95" fill="#28282d"/><rect x="927.63" y="878.85" width="19.98" height="19.95" fill="#323232"/></g></g>
<clipPath id="cD1"><rect x="1058.60" y="830.60" width="58.07" height="57.90"/></clipPath>
<g clip-path="url(#cD1)"><g filter="url(#bl)"><rect x="1048.60" y="820.60" width="19.98" height="19.95" fill="#5a7850"/><rect x="1068.28" y="820.60" width="9.98" height="19.95" fill="#5a5a3c"/><rect x="1077.96" y="820.60" width="9.98" height="19.95" fill="#465032"/><rect x="1087.63" y="820.60" width="9.98" height="19.95" fill="#465032"/><rect x="1097.31" y="820.60" width="9.98" height="19.95" fill="#5a6446"/><rect x="1106.99" y="820.60" width="19.98" height="19.95" fill="#505a3c"/><rect x="1048.60" y="840.25" width="19.98" height="9.95" fill="#504632"/><rect x="1068.28" y="840.25" width="9.98" height="9.95" fill="#966e50"/><rect x="1077.96" y="840.25" width="9.98" height="9.95" fill="#826446"/><rect x="1087.63" y="840.25" width="9.98" height="9.95" fill="#786446"/><rect x="1097.31" y="840.25" width="9.98" height="9.95" fill="#5a6446"/><rect x="1106.99" y="840.25" width="19.98" height="9.95" fill="#465037"/><rect x="1048.60" y="849.90" width="19.98" height="9.95" fill="#969678"/><rect x="1068.28" y="849.90" width="9.98" height="9.95" fill="#826446"/><rect x="1077.96" y="849.90" width="9.98" height="9.95" fill="#8c643c"/><rect x="1087.63" y="849.90" width="9.98" height="9.95" fill="#825f3c"/><rect x="1097.31" y="849.90" width="9.98" height="9.95" fill="#826e46"/><rect x="1106.99" y="849.90" width="19.98" height="9.95" fill="#96a06e"/><rect x="1048.60" y="859.55" width="19.98" height="9.95" fill="#8c8c6e"/><rect x="1068.28" y="859.55" width="9.98" height="9.95" fill="#785a3c"/><rect x="1077.96" y="859.55" width="9.98" height="9.95" fill="#8c643c"/><rect x="1087.63" y="859.55" width="9.98" height="9.95" fill="#825f37"/><rect x="1097.31" y="859.55" width="9.98" height="9.95" fill="#82643c"/><rect x="1106.99" y="859.55" width="19.98" height="9.95" fill="#8c965a"/><rect x="1048.60" y="869.20" width="19.98" height="9.95" fill="#5a5a46"/><rect x="1068.28" y="869.20" width="9.98" height="9.95" fill="#a09678"/><rect x="1077.96" y="869.20" width="9.98" height="9.95" fill="#6e5032"/><rect x="1087.63" y="869.20" width="9.98" height="9.95" fill="#8c643c"/><rect x="1097.31" y="869.20" width="9.98" height="9.95" fill="#785a32"/><rect x="1106.99" y="869.20" width="19.98" height="9.95" fill="#8ca05a"/><rect x="1048.60" y="878.85" width="19.98" height="19.95" fill="#829650"/><rect x="1068.28" y="878.85" width="9.98" height="19.95" fill="#829650"/><rect x="1077.96" y="878.85" width="9.98" height="19.95" fill="#829650"/><rect x="1087.63" y="878.85" width="9.98" height="19.95" fill="#8ca05a"/><rect x="1097.31" y="878.85" width="9.98" height="19.95" fill="#8ca05a"/><rect x="1106.99" y="878.85" width="19.98" height="19.95" fill="#8caa5a"/></g></g>
<clipPath id="cD2"><rect x="1116.67" y="830.60" width="58.07" height="57.90"/></clipPath>
<g clip-path="url(#cD2)"><g filter="url(#bl)"><rect x="1106.67" y="820.60" width="19.98" height="19.95" fill="#966e5a"/><rect x="1126.35" y="820.60" width="9.98" height="19.95" fill="#8c8264"/><rect x="1136.03" y="820.60" width="9.98" height="19.95" fill="#8c8764"/><rect x="1145.70" y="820.60" width="9.98" height="19.95" fill="#968c6e"/><rect x="1155.38" y="820.60" width="9.98" height="19.95" fill="#968264"/><rect x="1165.06" y="820.60" width="19.98" height="19.95" fill="#8c8264"/><rect x="1106.67" y="840.25" width="19.98" height="9.95" fill="#a06e50"/><rect x="1126.35" y="840.25" width="9.98" height="9.95" fill="#aaa078"/><rect x="1136.03" y="840.25" width="9.98" height="9.95" fill="#968c64"/><rect x="1145.70" y="840.25" width="9.98" height="9.95" fill="#aa8c6e"/><rect x="1155.38" y="840.25" width="9.98" height="9.95" fill="#a06e50"/><rect x="1165.06" y="840.25" width="19.98" height="9.95" fill="#a0785a"/><rect x="1106.67" y="849.90" width="19.98" height="9.95" fill="#aa9664"/><rect x="1126.35" y="849.90" width="9.98" height="9.95" fill="#8c7846"/><rect x="1136.03" y="849.90" width="9.98" height="9.95" fill="#32323c"/><rect x="1145.70" y="849.90" width="9.98" height="9.95" fill="#826e50"/><rect x="1155.38" y="849.90" width="9.98" height="9.95" fill="#b4a078"/><rect x="1165.06" y="849.90" width="19.98" height="9.95" fill="#aa8264"/><rect x="1106.67" y="859.55" width="19.98" height="9.95" fill="#8c6450"/><rect x="1126.35" y="859.55" width="9.98" height="9.95" fill="#967846"/><rect x="1136.03" y="859.55" width="9.98" height="9.95" fill="#b4a050"/><rect x="1145.70" y="859.55" width="9.98" height="9.95" fill="#785a46"/><rect x="1155.38" y="859.55" width="9.98" height="9.95" fill="#aa8c64"/><rect x="1165.06" y="859.55" width="19.98" height="9.95" fill="#a0826e"/><rect x="1106.67" y="869.20" width="19.98" height="9.95" fill="#8c6e5a"/><rect x="1126.35" y="869.20" width="9.98" height="9.95" fill="#a0826e"/><rect x="1136.03" y="869.20" width="9.98" height="9.95" fill="#967864"/><rect x="1145.70" y="869.20" width="9.98" height="9.95" fill="#967864"/><rect x="1155.38" y="869.20" width="9.98" height="9.95" fill="#826450"/><rect x="1165.06" y="869.20" width="19.98" height="9.95" fill="#967864"/><rect x="1106.67" y="878.85" width="19.98" height="19.95" fill="#8c785a"/><rect x="1126.35" y="878.85" width="9.98" height="19.95" fill="#826e5a"/><rect x="1136.03" y="878.85" width="9.98" height="19.95" fill="#8c7864"/><rect x="1145.70" y="878.85" width="9.98" height="19.95" fill="#82785a"/><rect x="1155.38" y="878.85" width="9.98" height="19.95" fill="#968c64"/><rect x="1165.06" y="878.85" width="19.98" height="19.95" fill="#8c825a"/></g></g>
<clipPath id="cD3"><rect x="1174.74" y="830.60" width="58.07" height="57.90"/></clipPath>
<g clip-path="url(#cD3)"><g filter="url(#bl)"><rect x="1164.74" y="820.60" width="19.98" height="19.95" fill="#789664"/><rect x="1184.42" y="820.60" width="9.98" height="19.95" fill="#78a064"/><rect x="1194.10" y="820.60" width="9.98" height="19.95" fill="#82a56e"/><rect x="1203.78" y="820.60" width="9.98" height="19.95" fill="#7da069"/><rect x="1213.45" y="820.60" width="9.98" height="19.95" fill="#6e8c5f"/><rect x="1223.13" y="820.60" width="19.98" height="19.95" fill="#6e825f"/><rect x="1164.74" y="840.25" width="19.98" height="9.95" fill="#8ca078"/><rect x="1184.42" y="840.25" width="9.98" height="9.95" fill="#969682"/><rect x="1194.10" y="840.25" width="9.98" height="9.95" fill="#82aa64"/><rect x="1203.78" y="840.25" width="9.98" height="9.95" fill="#789664"/><rect x="1213.45" y="840.25" width="9.98" height="9.95" fill="#aaaa96"/><rect x="1223.13" y="840.25" width="19.98" height="9.95" fill="#969682"/><rect x="1164.74" y="849.90" width="19.98" height="9.95" fill="#969b82"/><rect x="1184.42" y="849.90" width="9.98" height="9.95" fill="#82966e"/><rect x="1194.10" y="849.90" width="9.98" height="9.95" fill="#646e78"/><rect x="1203.78" y="849.90" width="9.98" height="9.95" fill="#8c96aa"/><rect x="1213.45" y="849.90" width="9.98" height="9.95" fill="#b4a096"/><rect x="1223.13" y="849.90" width="19.98" height="9.95" fill="#aa968c"/><rect x="1164.74" y="859.55" width="19.98" height="9.95" fill="#82a06e"/><rect x="1184.42" y="859.55" width="9.98" height="9.95" fill="#8c968c"/><rect x="1194.10" y="859.55" width="9.98" height="9.95" fill="#78828c"/><rect x="1203.78" y="859.55" width="9.98" height="9.95" fill="#8c8c78"/><rect x="1213.45" y="859.55" width="9.98" height="9.95" fill="#96a06e"/><rect x="1223.13" y="859.55" width="19.98" height="9.95" fill="#a09678"/><rect x="1164.74" y="869.20" width="19.98" height="9.95" fill="#6e965a"/><rect x="1184.42" y="869.20" width="9.98" height="9.95" fill="#8ca0b4"/><rect x="1194.10" y="869.20" width="9.98" height="9.95" fill="#6e7878"/><rect x="1203.78" y="869.20" width="9.98" height="9.95" fill="#788282"/><rect x="1213.45" y="869.20" width="9.98" height="9.95" fill="#8c8c64"/><rect x="1223.13" y="869.20" width="19.98" height="9.95" fill="#be8c78"/><rect x="1164.74" y="878.85" width="19.98" height="19.95" fill="#506e46"/><rect x="1184.42" y="878.85" width="9.98" height="19.95" fill="#aaa096"/><rect x="1194.10" y="878.85" width="9.98" height="19.95" fill="#aa6e64"/><rect x="1203.78" y="878.85" width="9.98" height="19.95" fill="#b47864"/><rect x="1213.45" y="878.85" width="9.98" height="19.95" fill="#be826e"/><rect x="1223.13" y="878.85" width="19.98" height="19.95" fill="#c88c78"/></g></g>
</svg>
</body></html>
